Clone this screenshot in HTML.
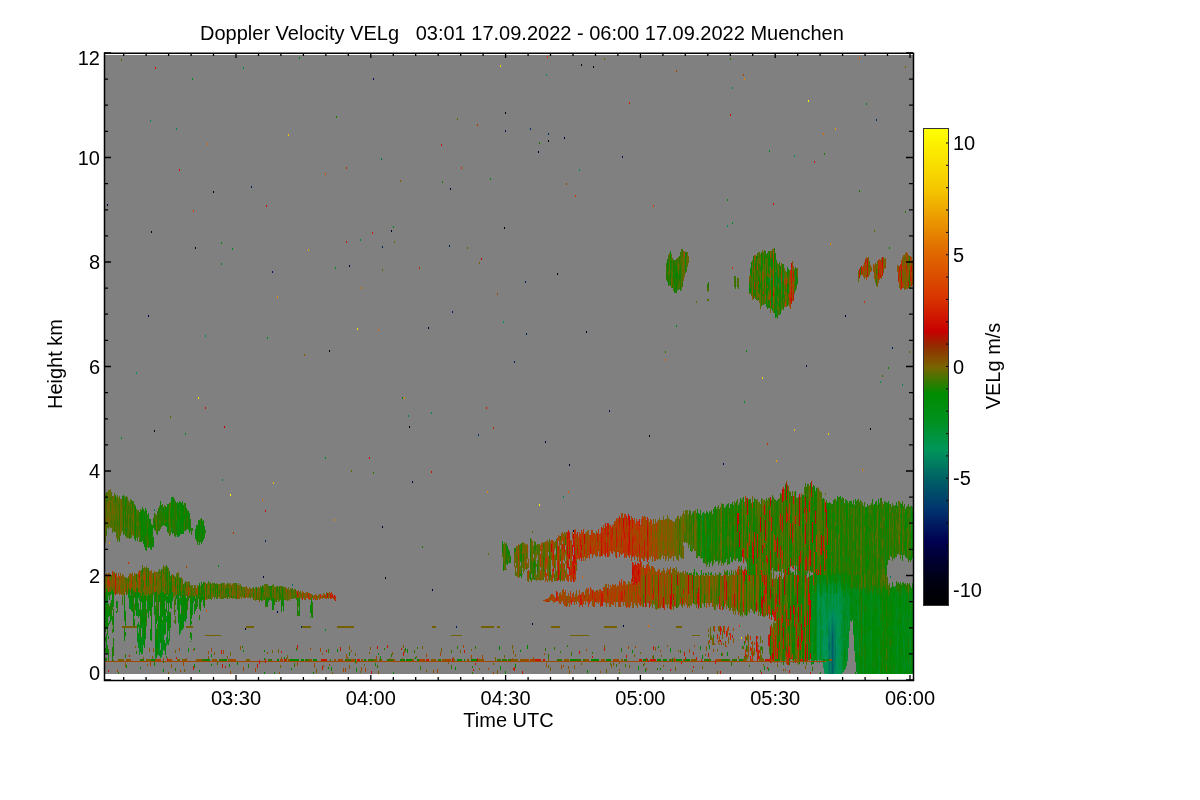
<!DOCTYPE html><html><head><meta charset="utf-8"><style>html,body{margin:0;padding:0;background:#fff;width:1200px;height:800px;overflow:hidden}svg{display:block;will-change:transform}text{font-family:"Liberation Sans",sans-serif;font-size:20px;fill:#000}</style></head><body><svg width="1200" height="800" viewBox="0 0 1200 800"><rect x="105" y="55" width="808" height="619" fill="#808080"/><defs><filter id="bl" x="0" y="0" width="1" height="1"><feGaussianBlur stdDeviation="0.5"/></filter></defs><g filter="url(#bl)"><rect x="105" y="55" width="808" height="619" fill="#808080"/><g fill="none" stroke-width="1" shape-rendering="crispEdges"><path stroke="#000004" d="M409.5 426v2"/><path stroke="#00000c" d="M154.5 430v2M329.5 350v2M504.5 227v2"/><path stroke="#000014" d="M195.5 247v2M505.5 112v2M557.5 273v2M581.5 64v2M593.5 66v2M649.5 435v2M870.5 428v2"/><path stroke="#00001b" d="M151.5 231v2M245.5 628v2M385.5 577v2M391.5 230v2M548.5 140v2"/><path stroke="#000023" d="M213.5 191v2M569.5 464v2M586.5 331v2"/><path stroke="#00002b" d="M382.5 526v2M432.5 589v2M564.5 137v2"/><path stroke="#000034" d="M107.5 204v2M349.5 265v2M428.5 327v2M573.5 530v2"/><path stroke="#00003e" d="M263.5 576v2M450.5 188v2M532.5 623v2M545.5 441v2M623.5 625v2M845.5 315v2"/><path stroke="#000047" d="M148.5 315v2M538.5 151v2"/><path stroke="#000050" d="M277.5 611v2M412.5 481v2"/><path stroke="#000d59" d="M373.5 78v2M505.5 130v2M609.5 410v2M622.5 156v2M723.5 463v2M806.5 365v2"/><path stroke="#001a61" d="M251.5 186v2M272.5 271v2M452.5 311v2M456.5 626v2M514.5 361v2M525.5 281v2M526.5 333v2M892.5 347v2"/><path stroke="#002566" d="M265.5 540v2M382.5 246v2M449.5 245v2"/><path stroke="#003069" d="M301.5 626v2M478.5 434v2M530.5 128v2M548.5 133v2M876.5 119v2"/><path stroke="#005c69" d="M832.5 633v27M832.5 663v11"/><path stroke="#006766" d="M829.5 642v8M832.5 660v3"/><path stroke="#007163" d="M292.5 584v2M381.5 158v2M829.5 656v3M829.5 661v13M831.5 641v18M831.5 661v13M832.5 623v10M833.5 629v43M835.5 647v10M890.5 576v2"/><path stroke="#007b61" d="M154.5 509v2M828.5 629v22M828.5 658v1M828.5 661v13M829.5 629v8M829.5 650v6M830.5 636v7M830.5 655v4M830.5 661v4M831.5 624v17M832.5 617v6M833.5 625v4M833.5 672v2M834.5 631v10M834.5 651v16M835.5 628v19M835.5 657v10"/><path stroke="#00855e" d="M176.5 128v2M222.5 479v2M408.5 415v2M431.5 412v2M563.5 496v2M828.5 621v8M828.5 651v7M829.5 625v4M829.5 637v5M830.5 631v5M830.5 643v12M830.5 665v9M831.5 617v7M832.5 609v8M833.5 618v7M834.5 623v8M834.5 641v10M834.5 667v7M835.5 619v9M835.5 667v7M902.5 384v2"/><path stroke="#008f5c" d="M150.5 120v2M205.5 335v2M546.5 74v2M727.5 225v2M794.5 155v2M823.5 636v8M824.5 662v11M825.5 642v3M829.5 616v9M831.5 610v7M834.5 614v9M835.5 611v8M836.5 646v8M837.5 618v9M837.5 631v14M837.5 648v11M837.5 662v12M838.5 650v7"/><path stroke="#009556" d="M136.5 372v2M503.5 321v2M818.5 595v10M823.5 599v10M823.5 613v8M823.5 626v3M823.5 644v8M824.5 609v9M824.5 622v37M825.5 624v8M825.5 639v3M825.5 645v16M825.5 662v1M825.5 671v3M826.5 622v3M826.5 635v15M826.5 655v4M826.5 661v4M826.5 673v1M827.5 635v9M827.5 648v8M827.5 661v6M828.5 612v9M830.5 614v17M833.5 608v10M835.5 599v12M836.5 615v10M836.5 637v9M836.5 654v20M837.5 627v4M837.5 645v3M837.5 659v3M838.5 614v12M838.5 632v6M838.5 647v3M838.5 657v17M839.5 630v7M839.5 645v4M839.5 654v4M840.5 614v7M840.5 647v6M880.5 381v2"/><path stroke="#00934b" d="M579.5 169v2M817.5 591v4M817.5 608v3M817.5 636v25M817.5 662v1M818.5 591v4M818.5 605v6M818.5 626v16M818.5 649v11M819.5 595v9M819.5 617v18M819.5 645v10M819.5 660v1M819.5 662v1M821.5 605v14M822.5 622v9M822.5 641v13M823.5 609v4M823.5 621v5M823.5 633v3M823.5 652v7M823.5 662v6M824.5 600v9M824.5 618v4M825.5 614v10M825.5 632v7M825.5 663v8M826.5 618v4M826.5 665v8M827.5 644v4M827.5 656v3M827.5 667v7M828.5 607v5M829.5 608v8M831.5 602v8M832.5 588v21M835.5 593v6M836.5 609v6M836.5 625v12M837.5 595v23M838.5 592v22M838.5 626v6M838.5 638v9M839.5 603v27M839.5 649v5M839.5 668v6M840.5 604v3M840.5 625v10M840.5 639v8M840.5 653v21"/><path stroke="#00913f" d="M243.5 67v2M817.5 595v13M817.5 611v25M818.5 611v15M818.5 642v7M819.5 591v4M819.5 604v4M819.5 635v10M821.5 596v9M821.5 627v25M822.5 595v27M822.5 654v7M822.5 662v1M823.5 592v7M823.5 629v4M824.5 592v8M825.5 591v7M825.5 606v8M826.5 611v7M826.5 625v10M826.5 650v5M827.5 620v7M828.5 585v22M829.5 594v14M830.5 610v4M831.5 594v8M833.5 598v10M834.5 594v20M839.5 590v6M839.5 637v8M839.5 658v10M840.5 587v17M840.5 607v7M840.5 621v4M841.5 603v8M841.5 614v10M841.5 643v6M841.5 656v18M842.5 590v7M842.5 623v4M842.5 668v5M846.5 628v6M848.5 620v7"/><path stroke="#008e34" d="M155.5 657v2M360.5 239v2M732.5 87v2M771.5 276v4M776.5 277v9M783.5 273v8M817.5 584v7M818.5 584v7M819.5 608v9M819.5 655v5M820.5 596v10M820.5 622v7M821.5 619v8M821.5 652v9M822.5 631v10M823.5 583v9M824.5 588v4M825.5 598v8M826.5 593v18M827.5 593v4M827.5 605v15M827.5 627v8M829.5 583v11M830.5 604v6M835.5 584v9M836.5 593v16M838.5 585v7M839.5 596v7M840.5 635v4M841.5 593v10M841.5 611v3M841.5 629v14M841.5 649v7M842.5 597v26M842.5 627v41M843.5 602v9M843.5 643v8M844.5 597v8M845.5 621v4M845.5 644v3M845.5 667v2M846.5 593v35M846.5 651v8M846.5 665v1M847.5 658v3M848.5 596v17M848.5 616v4M848.5 644v4M849.5 612v7M858.5 613v9M858.5 643v9"/><path stroke="#008c28" d="M139.5 643v12M141.5 645v6M159.5 637v5M159.5 646v7M162.5 651v4M166.5 641v5M179.5 618v7M192.5 78v2M221.5 263v2M325.5 629v2M335.5 267v2M702.5 513v9M727.5 199v2M732.5 222v2M744.5 401v2M769.5 150v2M769.5 278v5M772.5 297v8M776.5 269v5M779.5 277v4M780.5 279v8M812.5 591v19M812.5 631v30M812.5 662v2M817.5 575v9M818.5 575v9M819.5 583v8M820.5 606v6M820.5 633v13M820.5 655v3M821.5 592v4M822.5 589v6M824.5 581v7M825.5 587v4M827.5 597v8M828.5 580v5M830.5 594v10M831.5 584v10M832.5 582v6M833.5 581v17M837.5 582v13M838.5 582v3M839.5 581v9M841.5 624v5M843.5 597v5M843.5 619v4M843.5 626v17M843.5 665v6M844.5 638v4M845.5 603v13M845.5 625v19M846.5 589v4M846.5 634v17M846.5 659v6M847.5 594v3M847.5 606v10M847.5 625v5M847.5 640v11M848.5 613v3M848.5 627v17M849.5 594v8M855.5 638v9M858.5 589v7M858.5 605v8M858.5 626v4M858.5 636v7M858.5 659v8M863.5 589v5M863.5 613v11M863.5 637v5M863.5 657v4M863.5 665v5M871.5 593v5M871.5 629v11M871.5 650v3M871.5 658v5M878.5 602v4M897.5 637v20M902.5 596v6M902.5 616v6M904.5 648v8M909.5 598v8M909.5 621v7M909.5 661v10M910.5 639v8M911.5 506v7M911.5 523v9"/><path stroke="#008a1b" d="M121.5 437v2M129.5 601v8M131.5 603v3M137.5 607v9M137.5 624v14M138.5 637v11M139.5 593v8M139.5 625v7M139.5 635v5M142.5 635v10M145.5 622v4M147.5 603v10M155.5 606v9M155.5 627v9M155.5 641v16M158.5 625v5M158.5 643v12M159.5 642v4M159.5 653v3M160.5 654v4M161.5 623v14M161.5 647v10M162.5 642v9M163.5 634v13M164.5 625v3M165.5 647v4M166.5 616v6M166.5 637v4M177.5 595v15M178.5 532v5M180.5 596v9M185.5 433v2M191.5 603v5M192.5 597v3M192.5 610v5M232.5 248v2M299.5 57v2M325.5 457v2M393.5 226v2M685.5 252v9M702.5 522v36M708.5 538v9M743.5 497v11M753.5 265v4M753.5 282v4M766.5 305v2M771.5 266v3M776.5 274v3M776.5 296v19M787.5 274v3M795.5 271v9M795.5 288v3M803.5 659v2M803.5 662v2M808.5 639v21M811.5 603v16M811.5 636v25M811.5 662v1M812.5 575v16M812.5 610v21M813.5 612v12M814.5 593v38M816.5 599v55M820.5 612v10M820.5 629v4M820.5 646v9M820.5 658v2M821.5 580v12M825.5 580v7M828.5 575v5M830.5 586v8M837.5 572v3M839.5 575v6M840.5 579v8M843.5 611v8M843.5 623v3M843.5 651v14M843.5 671v1M844.5 591v6M844.5 605v11M844.5 620v18M844.5 642v4M844.5 661v5M845.5 592v11M845.5 616v5M845.5 647v20M846.5 582v7M847.5 597v9M847.5 616v9M847.5 630v10M847.5 651v7M848.5 589v7M849.5 602v10M849.5 619v12M850.5 588v6M850.5 599v6M850.5 614v7M852.5 619v1M853.5 587v19M853.5 613v7M853.5 628v7M854.5 588v6M854.5 621v8M854.5 646v5M855.5 589v10M855.5 605v13M855.5 629v9M855.5 647v7M856.5 591v9M856.5 604v7M856.5 616v5M856.5 634v11M856.5 661v6M857.5 586v3M857.5 595v25M857.5 630v23M857.5 666v8M858.5 622v4M858.5 630v6M858.5 667v7M860.5 589v4M860.5 603v9M860.5 634v5M860.5 649v6M863.5 594v19M863.5 624v13M863.5 642v15M863.5 661v4M863.5 670v4M866.5 103v2M866.5 591v5M866.5 624v5M866.5 632v14M866.5 671v3M867.5 661v13M868.5 598v10M868.5 617v9M868.5 633v13M869.5 655v8M870.5 630v7M871.5 586v7M871.5 598v31M871.5 640v10M871.5 653v5M871.5 663v11M876.5 588v20M876.5 617v3M876.5 638v4M876.5 672v2M878.5 595v7M878.5 619v7M878.5 649v13M878.5 669v5M879.5 588v4M879.5 597v29M879.5 642v7M879.5 656v18M881.5 629v6M881.5 657v8M885.5 558v3M888.5 652v7M892.5 644v6M894.5 598v5M895.5 594v5M895.5 619v17M896.5 606v12M896.5 646v9M896.5 672v2M897.5 590v4M897.5 604v17M897.5 630v7M897.5 657v17M898.5 592v6M898.5 608v10M898.5 626v5M898.5 634v8M900.5 625v10M901.5 551v4M902.5 586v10M902.5 602v11M902.5 622v20M902.5 658v9M902.5 673v1M903.5 615v14M903.5 638v14M903.5 662v5M903.5 673v1M904.5 597v10M904.5 625v6M904.5 641v7M904.5 656v17M905.5 594v9M905.5 614v5M905.5 628v4M905.5 638v5M905.5 664v5M907.5 608v13M907.5 631v7M907.5 648v24M909.5 617v4M909.5 628v33M910.5 602v17M910.5 626v13M910.5 647v20M911.5 513v10M911.5 539v14M912.5 595v8M912.5 611v9M912.5 637v3M912.5 661v8"/><path stroke="#00890f" d="M106.5 589v6M106.5 607v16M106.5 634v2M106.5 641v6M106.5 658v3M107.5 596v8M108.5 592v4M109.5 621v3M111.5 591v3M112.5 609v1M116.5 603v5M125.5 497v5M125.5 623v3M128.5 591v7M129.5 589v9M130.5 595v14M133.5 618v3M135.5 532v4M135.5 597v5M136.5 594v7M136.5 604v4M137.5 600v3M137.5 638v4M138.5 592v3M138.5 612v6M138.5 622v5M138.5 633v4M139.5 632v3M139.5 640v3M140.5 637v13M141.5 610v4M141.5 622v6M141.5 637v8M141.5 651v3M142.5 602v6M142.5 624v11M142.5 645v9M143.5 636v9M145.5 530v5M145.5 613v4M145.5 631v8M147.5 596v7M149.5 602v9M150.5 634v4M151.5 630v6M155.5 598v4M155.5 615v12M158.5 594v8M158.5 617v8M158.5 630v13M159.5 616v21M160.5 630v5M160.5 650v4M161.5 605v9M161.5 637v10M162.5 592v8M162.5 607v10M162.5 620v22M163.5 614v20M163.5 647v3M164.5 620v5M164.5 648v3M165.5 615v3M165.5 625v9M165.5 643v4M166.5 599v13M167.5 504v5M167.5 525v7M167.5 574v3M167.5 611v33M168.5 639v6M169.5 579v3M169.5 594v9M169.5 625v16M170.5 595v5M170.5 623v3M171.5 497v21M171.5 525v7M171.5 593v16M172.5 592v5M177.5 502v8M177.5 517v9M178.5 503v9M178.5 519v13M179.5 603v15M179.5 625v10M180.5 521v7M180.5 614v19M181.5 510v8M181.5 530v4M182.5 501v4M182.5 520v12M182.5 603v7M182.5 615v15M183.5 620v8M184.5 605v16M185.5 614v8M186.5 617v2M189.5 513v3M190.5 620v3M191.5 633v6M192.5 605v5M193.5 599v4M194.5 604v5M196.5 594v12M218.5 565v2M221.5 242v2M267.5 337v2M269.5 599v1M272.5 598v8M273.5 602v2M283.5 598v8M299.5 598v17M311.5 598v3M311.5 607v4M490.5 178v2M515.5 548v4M521.5 543v8M667.5 267v5M670.5 251v4M670.5 260v7M676.5 325v2M685.5 265v4M703.5 512v7M707.5 519v7M707.5 536v18M707.5 564v1M708.5 520v9M711.5 572v3M715.5 509v9M715.5 535v7M722.5 504v10M722.5 524v6M722.5 535v7M722.5 545v9M725.5 516v6M725.5 528v10M725.5 548v3M746.5 350v2M747.5 558v15M749.5 508v18M749.5 546v9M751.5 564v11M753.5 279v3M753.5 286v7M754.5 498v6M761.5 260v14M766.5 296v9M768.5 266v7M768.5 278v9M769.5 260v5M772.5 261v8M774.5 266v11M774.5 281v6M775.5 291v4M775.5 517v13M776.5 260v9M776.5 286v3M776.5 315v2M779.5 281v6M780.5 287v5M783.5 289v9M783.5 516v8M787.5 267v4M787.5 571v4M788.5 288v6M791.5 510v12M793.5 614v19M796.5 278v8M803.5 566v61M808.5 605v14M811.5 595v8M811.5 619v17M813.5 585v27M813.5 624v14M813.5 656v5M813.5 662v2M814.5 541v11M814.5 573v2M814.5 631v30M815.5 592v15M815.5 614v14M815.5 642v4M815.5 655v5M816.5 574v1M816.5 586v13M816.5 654v7M819.5 575v8M821.5 575v5M822.5 580v9M823.5 575v8M824.5 575v6M825.5 575v5M826.5 585v8M827.5 572v3M830.5 562v3M830.5 578v8M831.5 575v9M832.5 575v7M833.5 575v6M834.5 584v10M835.5 575v9M836.5 583v10M837.5 517v23M837.5 544v18M837.5 575v7M838.5 575v7M840.5 575v4M841.5 584v9M842.5 584v6M843.5 590v7M844.5 616v4M844.5 646v15M844.5 666v4M845.5 584v8M846.5 500v13M846.5 555v8M846.5 570v3M846.5 575v7M847.5 584v10M848.5 575v3M848.5 583v6M849.5 588v6M850.5 594v5M850.5 605v9M851.5 597v10M851.5 616v6M852.5 588v31M853.5 606v7M853.5 620v8M854.5 594v27M854.5 629v7M855.5 599v6M855.5 618v11M855.5 654v8M856.5 588v3M856.5 627v7M856.5 645v16M856.5 667v5M857.5 589v6M857.5 620v10M857.5 653v13M858.5 596v9M858.5 652v7M860.5 598v5M860.5 612v22M860.5 639v10M860.5 655v19M862.5 594v9M862.5 612v12M862.5 644v3M862.5 665v9M863.5 583v6M864.5 588v21M865.5 595v10M866.5 596v28M866.5 629v3M866.5 651v20M867.5 602v16M867.5 628v33M868.5 595v3M868.5 608v9M868.5 646v19M869.5 592v22M869.5 622v33M869.5 663v8M870.5 590v35M870.5 637v23M872.5 594v22M873.5 591v28M873.5 624v15M873.5 642v12M873.5 660v14M874.5 587v23M874.5 618v11M874.5 656v13M876.5 612v5M876.5 620v18M876.5 645v9M876.5 662v10M877.5 600v27M877.5 635v10M877.5 672v2M878.5 606v13M878.5 633v16M878.5 662v7M879.5 513v3M879.5 592v5M879.5 626v16M879.5 649v7M880.5 607v7M880.5 621v10M881.5 599v12M881.5 614v15M881.5 635v6M883.5 592v5M883.5 610v4M883.5 620v9M883.5 666v8M885.5 502v5M885.5 517v10M885.5 535v23M885.5 561v8M885.5 590v8M885.5 625v3M885.5 634v6M885.5 651v4M885.5 661v4M885.5 671v3M887.5 661v6M888.5 367v2M888.5 595v22M888.5 624v28M888.5 659v9M890.5 593v8M890.5 618v11M890.5 673v1M891.5 592v10M891.5 626v4M891.5 634v6M891.5 662v7M892.5 589v45M892.5 650v22M893.5 625v5M893.5 670v4M894.5 556v3M894.5 587v7M894.5 603v58M894.5 665v9M895.5 586v8M895.5 599v20M895.5 636v38M896.5 591v15M896.5 618v19M896.5 655v17M897.5 594v10M897.5 621v9M898.5 598v10M898.5 618v8M898.5 631v3M898.5 642v32M900.5 606v10M900.5 622v3M900.5 638v36M901.5 508v33M901.5 609v10M901.5 655v8M902.5 613v3M902.5 642v16M902.5 667v6M903.5 588v8M903.5 603v12M903.5 634v4M903.5 652v10M903.5 667v6M904.5 588v9M904.5 607v18M904.5 631v10M904.5 673v1M905.5 512v9M905.5 589v5M905.5 611v3M905.5 619v9M905.5 632v6M905.5 643v6M905.5 658v6M905.5 669v5M906.5 602v42M906.5 658v10M906.5 673v1M907.5 592v16M907.5 621v10M907.5 638v10M907.5 672v2M908.5 626v8M909.5 589v9M909.5 606v11M909.5 671v3M910.5 586v16M910.5 619v7M910.5 667v7M911.5 532v7M911.5 553v7M912.5 588v7M912.5 603v4M912.5 620v8M912.5 640v21M912.5 672v2"/><path stroke="#008702" d="M105.5 599v7M105.5 612v11M105.5 637v4M106.5 595v12M106.5 623v6M106.5 651v3M107.5 611v19M107.5 650v3M108.5 609v8M108.5 636v3M109.5 609v3M110.5 614v8M111.5 600v7M111.5 616v4M112.5 589v17M113.5 592v9M113.5 618v5M116.5 611v2M123.5 495v4M124.5 605v11M124.5 637v3M125.5 502v4M125.5 513v3M125.5 611v12M125.5 632v4M126.5 665v3M129.5 598v3M131.5 588v15M131.5 606v5M133.5 597v3M133.5 605v2M133.5 610v8M133.5 624v2M135.5 506v9M135.5 524v8M135.5 536v5M135.5 592v5M135.5 602v8M136.5 608v8M137.5 588v12M137.5 603v4M138.5 595v3M138.5 603v9M139.5 609v7M140.5 623v6M140.5 650v2M140.5 667v2M141.5 510v32M141.5 596v6M141.5 614v8M142.5 511v6M142.5 521v9M142.5 594v8M142.5 608v16M143.5 530v8M143.5 617v6M144.5 516v8M144.5 539v8M144.5 595v9M144.5 618v30M145.5 508v5M145.5 525v5M145.5 541v9M145.5 596v17M145.5 617v5M145.5 626v5M146.5 515v6M148.5 513v7M148.5 528v7M148.5 594v13M148.5 610v8M149.5 519v28M150.5 527v9M150.5 544v5M150.5 604v7M150.5 632v2M150.5 638v2M151.5 527v6M151.5 549v1M151.5 602v6M151.5 611v2M151.5 619v11M151.5 636v5M151.5 659v2M152.5 525v5M152.5 595v10M152.5 659v2M153.5 537v10M153.5 659v2M154.5 524v6M154.5 659v2M154.5 662v4M155.5 592v6M155.5 636v5M156.5 620v4M156.5 629v29M157.5 640v7M158.5 611v6M160.5 501v8M160.5 593v3M160.5 608v22M160.5 635v8M161.5 593v9M161.5 614v9M162.5 600v7M163.5 507v4M163.5 523v2M163.5 592v14M163.5 611v3M163.5 669v3M164.5 603v17M164.5 628v7M164.5 640v8M165.5 512v3M165.5 523v3M165.5 594v7M165.5 618v7M165.5 651v4M166.5 523v4M167.5 509v16M167.5 594v1M167.5 596v7M168.5 594v15M168.5 615v8M169.5 582v2M169.5 590v4M169.5 612v13M170.5 600v8M170.5 617v6M170.5 626v2M171.5 518v7M171.5 575v4M172.5 497v8M172.5 597v4M173.5 507v9M173.5 532v1M175.5 580v7M176.5 595v3M177.5 510v7M177.5 526v11M177.5 584v5M178.5 512v7M178.5 616v7M179.5 531v5M179.5 586v10M179.5 598v5M180.5 502v6M180.5 516v5M180.5 528v6M180.5 578v5M181.5 503v7M181.5 518v5M181.5 598v8M181.5 615v15M182.5 505v15M182.5 532v2M182.5 594v9M182.5 610v5M183.5 505v7M183.5 517v5M183.5 527v7M183.5 604v5M183.5 615v5M184.5 596v9M185.5 512v15M185.5 597v9M186.5 508v9M186.5 598v19M188.5 511v9M188.5 523v3M188.5 648v4M189.5 530v3M190.5 530v1M190.5 599v21M190.5 623v3M191.5 608v5M191.5 639v1M192.5 600v5M193.5 596v3M194.5 596v5M194.5 609v5M194.5 648v2M194.5 664v4M195.5 529v10M195.5 608v3M196.5 525v16M196.5 606v3M198.5 593v6M199.5 520v17M199.5 543v2M199.5 583v4M199.5 599v6M199.5 618v2M199.5 670v2M200.5 525v6M200.5 598v7M201.5 520v4M201.5 543v1M201.5 595v4M201.5 601v1M202.5 521v21M202.5 584v5M202.5 593v6M203.5 597v9M204.5 526v4M204.5 533v5M204.5 591v6M206.5 584v3M206.5 659v2M207.5 659v2M208.5 659v2M209.5 659v2M210.5 584v11M211.5 654v3M211.5 664v2M215.5 590v5M217.5 588v6M223.5 659v2M224.5 659v2M225.5 659v2M226.5 659v2M229.5 664v3M237.5 662v3M243.5 650v2M260.5 598v2M262.5 587v6M264.5 650v2M264.5 658v2M264.5 672v2M266.5 598v9M267.5 598v2M270.5 586v2M270.5 592v4M271.5 586v3M272.5 606v4M273.5 598v4M274.5 672v2M277.5 659v2M278.5 659v2M281.5 602v4M282.5 589v4M282.5 595v3M283.5 606v5M284.5 657v2M290.5 659v2M291.5 659v2M291.5 668v2M292.5 659v2M293.5 659v2M294.5 659v2M295.5 659v2M296.5 659v2M297.5 598v6M297.5 659v2M298.5 659v2M299.5 615v1M301.5 659v2M302.5 659v2M303.5 659v2M310.5 605v8M310.5 617v1M311.5 601v6M313.5 659v2M313.5 672v2M314.5 659v2M315.5 659v2M316.5 659v2M328.5 667v2M331.5 667v4M337.5 649v3M355.5 659v4M356.5 668v4M364.5 659v2M365.5 659v2M375.5 663v3M378.5 653v2M380.5 656v4M393.5 672v2M400.5 659v2M401.5 659v2M402.5 660v1M403.5 659v2M404.5 659v2M405.5 648v3M406.5 659v2M407.5 649v4M407.5 659v2M408.5 659v2M409.5 659v2M410.5 659v2M411.5 659v2M415.5 657v2M417.5 659v2M418.5 659v2M455.5 667v3M457.5 659v2M458.5 659v2M459.5 659v2M460.5 659v2M461.5 659v2M464.5 659v2M471.5 659v2M472.5 659v2M473.5 659v2M474.5 659v2M475.5 659v2M476.5 659v2M499.5 646v4M500.5 666v4M502.5 541v7M503.5 564v6M505.5 671v3M507.5 546v8M507.5 561v3M510.5 556v3M515.5 664v4M520.5 574v2M520.5 650v2M521.5 554v6M527.5 645v4M530.5 573v7M534.5 560v7M570.5 659v2M571.5 659v2M572.5 659v2M573.5 659v2M574.5 659v2M575.5 659v2M587.5 670v3M591.5 659v2M592.5 659v2M593.5 659v2M594.5 659v2M595.5 659v2M596.5 659v2M597.5 659v2M598.5 659v2M606.5 659v2M607.5 659v2M608.5 659v2M609.5 659v2M610.5 659v2M632.5 650v3M638.5 666v4M643.5 659v2M644.5 659v2M645.5 659v2M645.5 669v3M647.5 659v2M657.5 659v2M658.5 646v2M658.5 659v2M659.5 659v2M660.5 659v2M660.5 668v2M663.5 659v2M664.5 659v2M665.5 659v2M666.5 659v2M670.5 255v5M670.5 648v4M672.5 658v4M673.5 270v8M674.5 287v4M676.5 271v8M676.5 283v8M676.5 659v2M677.5 659v2M678.5 659v2M679.5 659v2M680.5 289v2M680.5 659v2M681.5 659v2M685.5 261v4M685.5 660v1M686.5 659v2M687.5 659v2M688.5 659v2M689.5 659v2M693.5 575v15M694.5 569v6M697.5 509v3M697.5 542v3M698.5 513v14M698.5 533v6M699.5 514v25M699.5 553v3M700.5 646v4M701.5 570v5M702.5 655v4M703.5 519v25M703.5 554v9M704.5 531v6M704.5 547v10M707.5 512v7M707.5 526v10M707.5 554v10M708.5 514v6M708.5 547v15M708.5 659v2M709.5 521v9M709.5 556v3M709.5 645v4M710.5 531v13M710.5 552v7M710.5 659v2M712.5 539v4M712.5 565v1M715.5 518v17M715.5 542v12M715.5 559v3M716.5 523v18M719.5 535v8M721.5 653v3M722.5 514v10M722.5 530v5M722.5 554v9M723.5 601v8M725.5 522v6M725.5 554v8M726.5 505v30M726.5 544v15M727.5 652v4M729.5 508v5M729.5 518v3M729.5 545v19M732.5 531v9M732.5 559v3M733.5 505v4M733.5 526v17M733.5 553v4M736.5 547v10M737.5 601v10M738.5 505v8M739.5 547v14M739.5 659v2M740.5 498v42M740.5 659v2M741.5 659v2M742.5 646v3M742.5 659v2M743.5 515v33M746.5 575v18M746.5 602v14M747.5 515v28M747.5 573v2M749.5 283v9M749.5 499v9M749.5 526v7M749.5 555v20M750.5 288v5M751.5 262v15M753.5 256v9M753.5 273v6M753.5 521v15M753.5 572v3M754.5 555v20M754.5 600v7M754.5 612v2M758.5 276v5M759.5 280v6M759.5 591v20M760.5 575v24M761.5 252v8M761.5 274v11M761.5 563v7M761.5 646v4M762.5 582v18M764.5 256v9M764.5 286v3M764.5 531v12M764.5 666v4M766.5 270v4M766.5 278v18M766.5 544v11M767.5 253v4M768.5 257v9M768.5 668v3M769.5 251v9M769.5 567v6M770.5 636v20M771.5 259v7M771.5 280v7M771.5 291v17M771.5 540v15M771.5 603v14M774.5 261v5M774.5 309v4M775.5 311v7M775.5 530v10M775.5 659v2M776.5 659v2M777.5 289v7M777.5 659v2M778.5 659v2M779.5 299v9M779.5 659v2M780.5 266v8M780.5 309v5M783.5 541v18M787.5 271v3M787.5 283v9M787.5 300v5M787.5 490v11M787.5 566v5M788.5 603v16M789.5 582v26M789.5 627v19M791.5 522v30M791.5 559v6M792.5 592v6M792.5 642v12M793.5 575v22M793.5 643v5M795.5 491v14M795.5 551v18M800.5 650v9M802.5 495v12M802.5 522v12M802.5 590v13M803.5 512v18M803.5 639v20M807.5 501v11M808.5 619v20M809.5 574v1M810.5 584v16M810.5 620v21M811.5 575v20M811.5 663v2M813.5 638v18M814.5 486v20M814.5 520v21M815.5 553v29M815.5 607v7M815.5 634v8M815.5 646v9M816.5 488v8M816.5 552v17M816.5 582v4M820.5 586v10M820.5 672v2M822.5 575v5M823.5 498v17M823.5 551v16M823.5 659v2M824.5 659v2M826.5 659v2M827.5 503v10M827.5 585v8M827.5 659v2M828.5 503v20M828.5 538v37M828.5 659v2M829.5 564v19M830.5 509v9M830.5 526v24M830.5 556v6M830.5 565v10M832.5 537v3M832.5 555v8M832.5 568v7M834.5 513v8M834.5 573v2M836.5 573v2M837.5 496v21M837.5 540v4M837.5 562v10M838.5 526v8M840.5 496v3M840.5 550v6M841.5 520v3M841.5 533v14M841.5 557v3M841.5 563v6M842.5 572v12M843.5 583v7M845.5 575v9M846.5 513v15M846.5 531v6M846.5 540v15M846.5 573v2M847.5 511v9M847.5 574v1M848.5 578v5M849.5 557v7M849.5 575v13M850.5 575v9M851.5 589v8M851.5 607v9M852.5 566v8M854.5 584v4M854.5 636v10M855.5 499v6M855.5 543v15M855.5 672v2M856.5 600v4M856.5 611v5M856.5 621v6M857.5 575v4M858.5 575v14M859.5 508v8M859.5 534v10M859.5 558v5M859.5 621v16M859.5 656v18M860.5 593v5M862.5 518v8M862.5 531v4M862.5 566v9M862.5 589v5M862.5 603v9M862.5 624v5M862.5 634v10M862.5 655v10M863.5 575v8M864.5 609v35M864.5 666v8M865.5 507v19M865.5 532v10M865.5 612v13M865.5 634v15M865.5 658v6M866.5 507v9M866.5 526v9M866.5 545v9M866.5 559v21M866.5 586v5M866.5 646v5M867.5 514v4M867.5 526v5M867.5 555v15M867.5 594v8M867.5 618v10M868.5 543v8M868.5 560v4M868.5 626v7M868.5 665v9M869.5 614v8M869.5 671v3M870.5 625v5M870.5 660v14M871.5 575v11M872.5 616v46M872.5 668v6M873.5 619v5M873.5 639v3M873.5 654v6M874.5 504v19M874.5 526v7M874.5 537v14M874.5 557v13M874.5 610v8M874.5 629v27M874.5 669v5M875.5 586v16M875.5 612v44M875.5 669v5M876.5 608v4M876.5 642v3M876.5 654v8M877.5 593v7M877.5 627v8M877.5 645v4M877.5 656v16M878.5 499v4M878.5 580v5M878.5 626v7M879.5 516v9M879.5 540v9M880.5 596v11M880.5 631v7M880.5 646v3M880.5 655v11M881.5 593v6M881.5 611v3M881.5 641v16M881.5 665v9M882.5 628v4M882.5 668v6M883.5 586v6M883.5 597v13M883.5 650v16M884.5 601v23M884.5 628v20M884.5 651v6M884.5 671v3M885.5 507v10M885.5 569v6M885.5 598v27M885.5 640v11M885.5 665v6M886.5 521v10M886.5 560v4M887.5 590v22M887.5 615v6M887.5 628v9M887.5 640v9M887.5 667v7M888.5 501v27M888.5 532v23M888.5 617v7M888.5 668v6M889.5 247v2M889.5 597v12M889.5 627v8M889.5 669v5M890.5 609v4M890.5 629v10M890.5 646v20M891.5 587v5M891.5 602v24M891.5 630v4M891.5 647v15M891.5 669v5M892.5 634v10M892.5 672v2M893.5 586v39M893.5 635v29M894.5 524v7M894.5 538v8M894.5 594v4M894.5 661v4M896.5 502v6M896.5 637v9M899.5 598v16M899.5 624v9M899.5 637v37M900.5 598v8M900.5 616v6M900.5 635v3M901.5 504v4M901.5 541v10M901.5 595v14M901.5 619v30M901.5 663v10M903.5 596v7M903.5 629v5M905.5 509v3M905.5 521v8M905.5 541v16M905.5 603v8M905.5 649v9M906.5 511v8M906.5 523v3M906.5 535v10M906.5 556v2M906.5 593v9M906.5 644v14M906.5 668v5M908.5 602v16M908.5 622v4M908.5 634v4M908.5 648v6M908.5 664v6M911.5 588v9M911.5 613v28M911.5 650v8M911.5 667v7M912.5 513v9M912.5 583v5M912.5 607v4M912.5 628v9M912.5 669v3"/><path stroke="#167e00" d="M105.5 606v6M105.5 623v6M105.5 648v4M106.5 530v3M106.5 636v5M106.5 647v4M107.5 630v5M107.5 645v5M108.5 604v5M108.5 623v3M108.5 651v7M109.5 592v8M109.5 606v3M109.5 612v4M110.5 592v3M111.5 607v9M112.5 616v6M112.5 647v11M113.5 601v6M113.5 612v6M113.5 623v9M113.5 638v7M113.5 647v4M113.5 653v3M113.5 660v1M115.5 495v7M116.5 601v2M117.5 601v6M123.5 509v23M124.5 595v10M124.5 616v5M124.5 628v9M124.5 640v1M125.5 506v7M125.5 525v11M128.5 578v3M132.5 501v7M132.5 589v23M133.5 607v3M133.5 621v3M134.5 610v6M134.5 619v5M135.5 515v9M136.5 574v8M136.5 593v1M136.5 601v3M139.5 512v9M139.5 525v5M140.5 512v10M140.5 531v3M140.5 599v24M140.5 629v8M141.5 579v3M142.5 507v4M142.5 517v4M142.5 530v7M142.5 568v5M143.5 509v21M143.5 538v6M143.5 599v18M143.5 623v13M144.5 511v5M144.5 524v15M144.5 604v14M145.5 513v12M146.5 510v5M146.5 521v13M146.5 541v10M146.5 574v13M146.5 595v1M146.5 615v3M148.5 520v8M148.5 535v4M148.5 545v3M148.5 568v2M148.5 576v10M148.5 607v3M149.5 595v7M150.5 519v8M150.5 536v8M150.5 597v7M150.5 611v5M150.5 629v3M151.5 524v3M151.5 533v16M151.5 608v3M151.5 613v6M152.5 530v17M154.5 521v3M154.5 595v20M156.5 591v3M156.5 609v11M157.5 531v4M157.5 636v4M157.5 647v8M158.5 520v4M158.5 602v9M159.5 509v3M159.5 595v7M160.5 604v4M161.5 569v6M161.5 582v4M161.5 590v3M161.5 602v3M162.5 508v9M162.5 522v4M163.5 511v12M163.5 606v5M164.5 594v9M165.5 506v6M165.5 515v5M165.5 609v6M166.5 507v13M166.5 593v6M167.5 567v7M167.5 577v12M168.5 504v8M168.5 523v6M168.5 609v6M168.5 623v8M169.5 571v8M169.5 584v6M170.5 509v9M170.5 582v12M170.5 612v5M171.5 579v14M172.5 505v12M172.5 528v6M173.5 497v10M173.5 516v3M174.5 516v4M175.5 501v8M175.5 518v8M175.5 532v5M175.5 577v3M176.5 521v9M177.5 575v4M177.5 589v4M178.5 594v22M179.5 501v9M179.5 518v13M179.5 579v7M180.5 508v8M180.5 583v4M180.5 591v5M181.5 523v7M181.5 606v9M182.5 591v3M183.5 512v5M183.5 522v5M183.5 591v2M183.5 595v9M183.5 609v6M184.5 515v6M185.5 503v9M185.5 527v4M185.5 584v4M185.5 606v8M186.5 523v7M188.5 520v3M188.5 526v4M188.5 596v5M189.5 516v14M190.5 519v11M190.5 632v6M190.5 641v1M191.5 596v7M191.5 613v6M191.5 621v3M192.5 528v3M195.5 603v5M197.5 525v15M197.5 606v1M198.5 520v22M198.5 586v7M199.5 537v6M199.5 587v7M199.5 598v1M199.5 605v4M200.5 531v11M200.5 605v6M201.5 518v2M201.5 524v19M201.5 582v9M202.5 589v4M203.5 520v20M203.5 587v5M204.5 530v3M204.5 582v3M204.5 597v11M205.5 530v3M206.5 587v5M206.5 595v2M208.5 581v2M208.5 598v1M210.5 595v4M212.5 583v2M212.5 589v2M215.5 586v4M217.5 584v4M217.5 594v5M219.5 590v4M221.5 583v8M225.5 597v1M227.5 591v3M228.5 589v8M231.5 589v3M231.5 595v3M233.5 595v3M236.5 598v1M253.5 587v3M253.5 592v4M256.5 587v6M261.5 587v14M262.5 585v2M263.5 590v2M267.5 600v7M268.5 598v4M271.5 589v12M273.5 604v6M279.5 586v4M279.5 593v5M280.5 594v4M281.5 598v4M281.5 606v6M282.5 593v2M282.5 598v8M293.5 596v2M297.5 611v5M298.5 598v3M311.5 611v6M312.5 612v6M336.5 116v2M402.5 397v2M422.5 546v2M442.5 181v2M502.5 548v4M506.5 543v14M506.5 560v4M507.5 564v1M508.5 549v8M509.5 551v4M509.5 560v3M510.5 559v4M519.5 575v2M520.5 554v8M521.5 560v3M521.5 570v8M523.5 554v7M530.5 538v4M530.5 550v7M533.5 566v13M534.5 578v2M535.5 547v4M537.5 564v7M539.5 142v2M543.5 560v3M549.5 555v4M556.5 547v8M560.5 572v6M667.5 259v8M667.5 275v7M668.5 261v7M668.5 281v5M669.5 282v3M670.5 267v19M672.5 285v3M673.5 260v10M674.5 266v4M674.5 277v10M674.5 291v2M675.5 265v13M675.5 281v4M676.5 259v12M676.5 291v2M677.5 271v12M679.5 269v11M679.5 288v1M679.5 549v3M680.5 265v16M680.5 285v4M685.5 269v4M689.5 573v2M690.5 546v5M691.5 551v1M691.5 573v2M693.5 511v17M693.5 531v9M693.5 590v14M696.5 572v3M697.5 512v5M697.5 523v14M697.5 573v2M698.5 527v6M698.5 539v17M699.5 545v8M700.5 510v8M700.5 528v3M700.5 539v9M700.5 590v18M701.5 551v7M703.5 544v10M704.5 527v4M704.5 537v10M704.5 557v6M704.5 594v9M705.5 535v10M705.5 573v2M706.5 511v15M706.5 546v16M706.5 573v2M708.5 529v9M709.5 511v5M709.5 530v26M709.5 559v6M710.5 512v19M710.5 544v8M710.5 559v4M710.5 573v2M711.5 517v4M712.5 514v25M712.5 543v22M713.5 509v9M713.5 533v7M713.5 635v3M714.5 517v3M715.5 506v3M715.5 554v5M716.5 509v9M716.5 541v20M717.5 544v6M719.5 509v26M719.5 551v9M719.5 575v13M722.5 542v3M723.5 522v17M723.5 546v8M724.5 532v10M724.5 557v6M725.5 507v9M725.5 538v10M725.5 551v3M726.5 535v9M727.5 504v4M727.5 516v15M727.5 546v10M727.5 570v5M728.5 597v11M729.5 513v5M729.5 521v24M729.5 572v3M730.5 504v9M730.5 551v6M731.5 512v5M731.5 527v13M731.5 546v14M732.5 502v9M732.5 516v15M732.5 540v19M733.5 509v13M733.5 557v2M735.5 507v10M736.5 501v31M737.5 540v18M737.5 575v26M738.5 524v38M740.5 540v11M741.5 550v11M744.5 641v4M746.5 593v9M746.5 645v5M750.5 268v7M750.5 511v9M750.5 542v18M751.5 545v19M753.5 296v3M753.5 502v19M753.5 564v8M754.5 504v28M754.5 547v8M754.5 575v25M755.5 263v7M755.5 284v15M755.5 517v21M755.5 575v8M756.5 256v10M756.5 539v20M758.5 284v3M759.5 286v8M760.5 599v17M761.5 285v21M761.5 512v17M762.5 261v9M764.5 278v5M766.5 254v4M766.5 266v4M766.5 274v4M766.5 498v25M767.5 276v9M767.5 288v7M767.5 588v11M768.5 287v4M768.5 300v8M768.5 506v41M768.5 557v18M769.5 270v4M769.5 300v8M769.5 561v6M769.5 573v2M771.5 273v3M771.5 287v4M771.5 308v1M771.5 500v17M772.5 254v7M772.5 277v20M772.5 309v2M772.5 525v20M772.5 552v10M774.5 248v3M774.5 254v7M774.5 303v6M775.5 253v7M775.5 272v9M775.5 295v8M775.5 552v19M776.5 289v7M776.5 501v19M776.5 567v5M777.5 277v12M777.5 302v3M777.5 500v26M777.5 579v28M777.5 639v9M778.5 577v16M778.5 650v9M779.5 268v9M779.5 287v6M779.5 573v2M779.5 621v20M780.5 292v17M780.5 508v5M780.5 558v9M782.5 264v6M782.5 287v17M782.5 579v23M782.5 623v16M783.5 281v8M783.5 304v4M783.5 501v15M783.5 587v18M783.5 649v12M783.5 662v3M785.5 484v21M785.5 535v14M785.5 646v5M786.5 574v1M787.5 292v4M787.5 305v1M787.5 501v12M787.5 521v32M788.5 269v3M788.5 284v4M788.5 575v10M788.5 626v7M789.5 491v12M789.5 535v37M789.5 575v7M789.5 608v19M789.5 658v3M789.5 662v3M790.5 515v8M790.5 539v19M790.5 571v4M791.5 496v14M791.5 552v7M791.5 565v1M792.5 575v17M792.5 598v33M793.5 572v3M793.5 597v8M793.5 633v10M793.5 648v13M793.5 662v1M794.5 627v32M795.5 505v11M795.5 524v27M795.5 593v24M796.5 575v11M797.5 550v19M799.5 571v13M799.5 598v21M799.5 660v1M799.5 662v2M800.5 563v12M800.5 594v17M802.5 507v15M802.5 560v30M802.5 603v27M802.5 641v18M803.5 495v17M803.5 530v36M804.5 627v10M805.5 574v1M806.5 497v11M806.5 590v18M806.5 621v17M806.5 655v5M807.5 545v5M807.5 571v2M809.5 587v6M810.5 483v11M810.5 514v16M810.5 566v5M810.5 576v8M810.5 647v6M811.5 497v61M812.5 487v35M812.5 543v5M812.5 563v9M813.5 532v12M814.5 506v14M814.5 575v18M815.5 491v20M815.5 524v15M815.5 628v6M816.5 496v22M816.5 524v11M820.5 575v11M821.5 555v20M822.5 499v21M822.5 572v3M823.5 515v21M823.5 567v8M824.5 153v2M825.5 541v16M826.5 542v8M826.5 575v10M827.5 513v15M827.5 545v27M828.5 523v15M829.5 502v7M829.5 546v18M830.5 503v6M830.5 518v8M830.5 550v6M830.5 575v3M832.5 504v3M832.5 512v25M832.5 540v15M832.5 563v5M833.5 500v27M834.5 543v11M834.5 575v9M835.5 526v5M835.5 566v4M836.5 501v9M836.5 525v9M836.5 562v11M836.5 575v8M838.5 502v10M838.5 568v7M840.5 513v10M840.5 528v22M840.5 556v5M841.5 499v15M841.5 523v10M841.5 547v10M841.5 560v3M841.5 569v15M842.5 501v6M842.5 525v8M842.5 555v9M842.5 569v3M843.5 574v9M844.5 508v9M844.5 534v11M844.5 573v5M844.5 581v10M845.5 544v17M845.5 570v5M846.5 528v3M846.5 537v3M846.5 563v7M847.5 501v10M847.5 535v10M847.5 557v4M847.5 575v9M849.5 501v56M849.5 564v3M850.5 501v6M850.5 519v17M850.5 558v10M850.5 584v4M851.5 501v7M851.5 515v4M851.5 532v10M851.5 574v1M852.5 504v15M852.5 529v4M852.5 542v10M852.5 574v1M853.5 575v12M854.5 541v9M854.5 556v9M854.5 575v9M855.5 505v38M855.5 558v15M855.5 575v4M855.5 582v7M856.5 575v8M857.5 521v5M857.5 564v8M857.5 579v7M858.5 559v12M859.5 190v2M859.5 516v18M859.5 544v4M859.5 553v5M859.5 563v8M859.5 590v31M859.5 637v19M860.5 575v14M861.5 592v4M861.5 620v8M861.5 644v7M861.5 656v18M862.5 503v15M862.5 526v5M862.5 535v31M862.5 629v5M862.5 647v8M863.5 572v3M864.5 523v3M864.5 543v8M864.5 644v22M865.5 547v5M865.5 555v20M865.5 588v7M865.5 625v9M865.5 649v9M865.5 664v10M866.5 516v10M866.5 535v10M866.5 554v5M866.5 580v6M867.5 504v10M867.5 518v8M867.5 531v24M867.5 579v15M868.5 527v5M868.5 536v7M868.5 585v10M869.5 528v11M869.5 553v16M870.5 512v8M870.5 528v4M870.5 542v15M870.5 567v8M871.5 517v8M871.5 537v7M872.5 499v6M872.5 523v10M872.5 546v18M872.5 567v8M872.5 662v6M873.5 509v10M874.5 523v3M874.5 533v4M874.5 570v5M875.5 502v29M875.5 545v35M875.5 602v10M875.5 656v13M876.5 501v10M877.5 649v7M878.5 503v6M878.5 519v27M878.5 550v5M878.5 558v12M878.5 575v5M878.5 585v10M879.5 503v10M879.5 525v11M879.5 558v30M880.5 508v5M880.5 517v4M880.5 528v9M880.5 547v9M880.5 563v3M880.5 588v8M880.5 614v7M880.5 638v8M880.5 649v6M880.5 666v8M881.5 519v3M881.5 528v12M881.5 543v14M881.5 564v5M882.5 588v16M882.5 609v19M882.5 632v26M883.5 507v10M883.5 529v10M883.5 547v6M883.5 614v6M883.5 629v21M884.5 586v15M884.5 624v4M884.5 648v3M884.5 657v14M885.5 527v8M885.5 584v6M885.5 628v6M885.5 655v6M886.5 507v14M886.5 531v8M886.5 557v3M886.5 564v11M886.5 589v16M886.5 616v19M886.5 638v3M886.5 646v3M886.5 658v7M887.5 503v9M887.5 518v10M887.5 551v8M887.5 612v3M887.5 621v7M887.5 637v3M887.5 649v12M888.5 528v4M888.5 555v5M889.5 609v18M889.5 635v34M890.5 516v8M890.5 546v10M890.5 588v5M890.5 601v8M890.5 613v5M890.5 666v7M891.5 510v3M891.5 548v9M891.5 640v7M892.5 582v7M893.5 630v5M893.5 664v6M894.5 515v9M894.5 546v10M895.5 510v4M896.5 529v4M897.5 506v8M897.5 533v10M897.5 583v7M899.5 588v10M899.5 614v10M899.5 633v4M900.5 503v5M900.5 514v4M900.5 538v5M900.5 558v1M900.5 582v16M901.5 585v10M901.5 649v6M901.5 673v1M902.5 553v8M902.5 583v3M903.5 582v6M904.5 525v8M904.5 542v9M904.5 584v4M905.5 529v9M906.5 507v4M906.5 519v4M906.5 526v3M906.5 545v11M906.5 585v8M907.5 519v9M908.5 618v4M908.5 638v10M908.5 654v10M908.5 670v4M909.5 283v5M909.5 524v7M909.5 538v5M909.5 555v5M909.5 583v6M910.5 533v3M910.5 556v5M911.5 597v16M911.5 641v9M911.5 658v9M912.5 522v36"/><path stroke="#2f7400" d="M105.5 592v7M105.5 629v3M105.5 658v3M106.5 492v13M107.5 590v6M107.5 604v7M108.5 649v2M108.5 658v3M110.5 497v3M110.5 503v7M110.5 603v11M112.5 606v3M112.5 622v3M112.5 629v4M112.5 658v3M113.5 609v3M113.5 645v2M114.5 523v9M117.5 520v7M117.5 607v5M118.5 672v2M119.5 504v27M119.5 537v5M122.5 496v8M122.5 596v9M123.5 499v10M123.5 532v3M124.5 506v4M125.5 516v9M125.5 654v4M126.5 499v8M126.5 517v7M126.5 528v9M126.5 578v3M126.5 583v12M127.5 510v22M128.5 506v8M128.5 588v3M129.5 517v9M129.5 531v8M130.5 507v31M131.5 500v4M132.5 508v6M132.5 522v9M133.5 591v6M133.5 600v5M134.5 504v35M134.5 591v7M134.5 604v1M134.5 624v2M136.5 516v6M136.5 526v3M136.5 588v5M136.5 651v3M137.5 527v14M138.5 515v6M139.5 521v4M140.5 522v9M140.5 534v8M140.5 593v6M140.5 659v2M141.5 570v6M141.5 584v7M141.5 659v2M142.5 537v4M142.5 589v5M142.5 659v2M143.5 581v6M143.5 592v7M143.5 659v2M145.5 535v6M146.5 534v7M146.5 568v6M146.5 609v6M146.5 618v8M147.5 515v7M147.5 528v13M148.5 539v6M148.5 570v6M148.5 593v1M150.5 594v3M151.5 593v9M152.5 592v3M152.5 605v2M153.5 518v10M153.5 573v13M154.5 513v8M154.5 592v3M155.5 522v8M156.5 579v7M156.5 594v15M157.5 511v20M157.5 609v12M157.5 624v9M158.5 508v12M158.5 524v7M159.5 506v3M159.5 512v8M159.5 524v7M159.5 569v4M160.5 509v20M160.5 576v3M160.5 596v8M161.5 505v22M161.5 575v7M161.5 586v4M162.5 504v4M162.5 517v5M163.5 567v7M163.5 661v2M164.5 509v10M164.5 524v2M165.5 520v3M165.5 569v10M165.5 585v5M166.5 520v3M166.5 565v16M166.5 589v4M166.5 656v2M167.5 589v5M168.5 512v11M168.5 529v4M170.5 518v7M170.5 533v2M170.5 594v1M172.5 517v11M173.5 519v13M173.5 575v3M174.5 499v17M174.5 520v16M174.5 612v3M175.5 509v9M175.5 526v6M175.5 597v8M175.5 610v2M175.5 622v2M175.5 668v3M176.5 503v13M176.5 530v5M176.5 598v1M177.5 579v5M177.5 593v2M179.5 510v8M180.5 587v2M183.5 584v7M184.5 503v12M184.5 530v1M184.5 591v5M185.5 581v3M185.5 594v3M186.5 517v6M187.5 510v19M187.5 595v15M189.5 582v5M189.5 597v1M190.5 595v4M191.5 528v7M191.5 590v6M195.5 598v5M197.5 540v5M197.5 597v9M199.5 594v4M199.5 615v3M200.5 519v6M200.5 593v5M201.5 591v4M201.5 599v2M202.5 599v1M202.5 659v2M203.5 582v5M203.5 592v2M203.5 596v1M203.5 659v2M204.5 659v2M205.5 659v2M208.5 595v3M211.5 599v1M213.5 587v7M214.5 583v2M214.5 597v2M215.5 584v2M215.5 595v2M216.5 585v3M217.5 662v3M219.5 659v2M220.5 659v2M221.5 597v2M221.5 659v2M222.5 659v2M223.5 588v3M225.5 591v6M226.5 588v6M227.5 585v6M227.5 594v5M231.5 587v2M236.5 583v15M241.5 586v5M242.5 646v2M244.5 591v7M248.5 664v4M249.5 593v4M250.5 596v2M253.5 590v2M256.5 593v7M258.5 597v3M262.5 593v4M264.5 596v4M265.5 601v4M266.5 597v1M268.5 659v2M269.5 586v7M269.5 595v4M269.5 659v2M270.5 659v2M271.5 659v2M273.5 590v6M274.5 598v7M276.5 588v7M276.5 597v5M277.5 586v6M279.5 590v3M279.5 598v3M282.5 586v3M291.5 589v4M292.5 588v2M294.5 663v4M295.5 589v9M296.5 648v3M297.5 604v7M298.5 611v3M305.5 659v2M306.5 659v2M307.5 659v2M308.5 659v2M312.5 595v3M312.5 602v10M328.5 649v4M330.5 659v2M345.5 659v2M346.5 659v2M347.5 660v1M348.5 659v2M349.5 652v4M349.5 659v2M350.5 659v2M368.5 659v2M369.5 659v2M370.5 659v2M371.5 659v2M372.5 659v2M373.5 472v2M373.5 659v2M377.5 665v3M384.5 648v2M387.5 659v2M388.5 659v2M389.5 659v2M390.5 660v1M391.5 654v3M391.5 659v2M392.5 659v2M414.5 650v3M417.5 647v2M420.5 666v4M438.5 659v2M439.5 659v2M440.5 659v2M451.5 650v3M451.5 665v4M457.5 646v3M472.5 666v2M472.5 672v2M475.5 646v3M497.5 659v2M498.5 659v2M499.5 659v2M500.5 659v2M502.5 659v2M503.5 550v4M503.5 570v1M503.5 659v2M504.5 659v2M505.5 558v6M505.5 659v2M506.5 557v3M506.5 569v1M506.5 659v2M507.5 554v7M508.5 659v2M509.5 555v5M509.5 659v2M510.5 659v2M514.5 548v5M519.5 545v4M520.5 548v6M521.5 551v3M521.5 563v7M530.5 542v8M530.5 557v11M531.5 561v13M533.5 561v5M534.5 545v8M534.5 567v6M535.5 542v5M535.5 562v5M543.5 543v5M543.5 556v4M543.5 563v8M544.5 557v3M545.5 648v3M548.5 654v4M549.5 546v9M549.5 565v12M550.5 572v5M554.5 647v3M556.5 555v5M557.5 659v2M558.5 659v2M559.5 659v2M560.5 536v4M560.5 556v5M560.5 578v3M560.5 651v2M560.5 659v2M561.5 659v2M565.5 537v8M567.5 645v2M571.5 652v4M576.5 659v2M577.5 659v2M578.5 659v2M579.5 659v2M580.5 659v2M583.5 659v2M584.5 659v2M592.5 652v2M610.5 663v2M616.5 664v3M619.5 672v2M621.5 648v4M624.5 659v2M625.5 659v2M625.5 664v3M626.5 659v2M643.5 594v9M643.5 664v2M653.5 655v4M657.5 668v2M665.5 351v2M666.5 263v3M666.5 270v9M667.5 272v3M668.5 255v6M668.5 268v3M668.5 275v6M669.5 274v8M669.5 659v2M670.5 659v2M671.5 260v9M673.5 278v7M674.5 260v6M674.5 270v7M675.5 278v3M675.5 288v5M676.5 279v4M676.5 575v7M676.5 600v8M677.5 283v7M678.5 274v9M679.5 256v8M679.5 519v15M679.5 541v8M679.5 552v3M680.5 252v6M680.5 281v4M680.5 650v3M681.5 262v3M682.5 249v6M682.5 282v4M684.5 535v7M686.5 252v5M686.5 516v26M687.5 572v3M688.5 604v2M689.5 510v35M690.5 511v5M690.5 525v9M690.5 573v2M691.5 515v17M691.5 535v6M692.5 513v6M693.5 528v3M693.5 540v9M696.5 513v8M696.5 556v2M697.5 517v6M697.5 537v5M697.5 545v13M699.5 539v6M700.5 518v10M700.5 531v8M700.5 575v15M701.5 515v10M701.5 532v4M701.5 558v1M703.5 573v2M704.5 513v14M704.5 603v4M704.5 659v2M705.5 514v3M705.5 545v12M705.5 659v2M706.5 526v20M706.5 659v2M707.5 284v4M707.5 659v2M708.5 282v9M708.5 572v3M709.5 516v5M709.5 565v2M711.5 510v7M711.5 521v9M711.5 551v10M711.5 590v11M713.5 518v15M713.5 540v21M714.5 507v10M714.5 520v36M715.5 573v2M716.5 518v5M716.5 587v16M717.5 507v37M717.5 557v4M718.5 536v8M718.5 548v17M718.5 574v1M718.5 580v24M719.5 543v8M719.5 560v3M719.5 588v8M720.5 527v6M720.5 573v2M721.5 659v2M722.5 659v2M723.5 504v18M723.5 539v7M723.5 554v11M723.5 659v2M724.5 508v16M724.5 527v5M724.5 542v15M724.5 659v2M725.5 572v3M725.5 659v2M726.5 659v2M727.5 508v8M727.5 531v5M727.5 556v9M727.5 659v2M728.5 503v11M728.5 529v7M728.5 555v9M728.5 659v2M729.5 659v2M730.5 58v2M730.5 513v11M730.5 532v4M731.5 504v8M731.5 517v10M731.5 560v2M731.5 570v5M731.5 662v4M732.5 511v5M732.5 574v1M732.5 659v2M733.5 522v4M733.5 543v10M733.5 659v2M734.5 276v2M734.5 510v6M734.5 526v5M734.5 547v6M734.5 659v2M735.5 278v11M735.5 503v4M735.5 517v44M735.5 659v2M736.5 532v15M736.5 557v2M736.5 659v2M737.5 285v2M737.5 532v8M738.5 287v2M739.5 503v29M740.5 551v11M740.5 602v14M741.5 500v35M741.5 566v40M743.5 508v7M744.5 519v11M745.5 538v23M745.5 575v9M746.5 498v15M746.5 524v16M746.5 637v3M748.5 500v6M749.5 592v14M749.5 665v2M750.5 278v6M750.5 293v1M750.5 499v12M750.5 520v5M750.5 560v15M751.5 283v7M751.5 503v42M751.5 601v8M752.5 524v8M752.5 559v16M753.5 293v3M753.5 536v11M754.5 289v7M754.5 607v5M755.5 279v5M755.5 583v11M755.5 609v2M756.5 266v12M756.5 500v39M756.5 559v5M757.5 253v8M757.5 270v6M757.5 281v3M757.5 516v18M757.5 558v17M758.5 263v5M758.5 287v6M758.5 297v3M758.5 540v19M759.5 255v3M759.5 264v7M759.5 275v5M759.5 522v32M759.5 575v16M759.5 611v1M760.5 266v6M760.5 282v7M760.5 670v2M761.5 498v14M761.5 529v34M762.5 254v7M762.5 289v7M763.5 294v11M763.5 549v20M764.5 250v6M764.5 283v3M764.5 289v7M764.5 520v11M764.5 548v16M764.5 571v4M765.5 251v8M765.5 514v6M766.5 569v6M767.5 303v6M767.5 575v13M767.5 599v17M768.5 547v10M769.5 283v6M769.5 498v12M769.5 521v40M769.5 575v31M770.5 258v9M771.5 531v9M771.5 555v16M771.5 586v17M772.5 273v4M772.5 495v30M772.5 545v7M772.5 562v6M772.5 593v16M773.5 515v17M773.5 595v16M774.5 251v3M774.5 277v4M774.5 499v36M774.5 567v4M775.5 281v10M775.5 303v8M775.5 500v17M776.5 520v47M777.5 268v9M777.5 310v9M777.5 612v27M778.5 277v6M778.5 289v9M778.5 303v3M778.5 499v47M778.5 593v5M778.5 635v15M779.5 262v6M779.5 293v6M779.5 311v4M779.5 525v24M780.5 274v5M780.5 493v15M780.5 529v5M780.5 567v5M781.5 510v6M781.5 536v14M781.5 573v2M782.5 270v17M782.5 602v13M782.5 653v8M783.5 264v9M783.5 308v2M783.5 524v17M783.5 559v14M783.5 577v10M783.5 605v22M784.5 294v9M784.5 621v40M785.5 285v7M785.5 505v30M785.5 549v20M785.5 575v20M785.5 608v38M786.5 500v7M786.5 523v10M787.5 485v5M787.5 553v13M787.5 583v19M787.5 644v9M788.5 272v12M788.5 297v3M788.5 585v18M789.5 572v3M791.5 590v19M791.5 624v15M792.5 572v3M792.5 631v11M792.5 659v1M793.5 546v21M794.5 596v11M795.5 267v4M795.5 280v8M795.5 570v5M796.5 268v10M796.5 532v21M796.5 586v21M797.5 277v7M797.5 569v6M797.5 612v6M798.5 497v16M798.5 568v7M798.5 582v25M799.5 526v30M799.5 584v14M799.5 619v12M799.5 649v11M800.5 510v18M800.5 536v15M800.5 575v19M800.5 611v15M801.5 586v18M802.5 553v7M803.5 627v12M805.5 483v14M805.5 570v4M806.5 487v10M806.5 523v33M806.5 572v3M806.5 608v13M806.5 638v17M807.5 484v17M807.5 530v15M807.5 550v21M808.5 512v22M808.5 540v18M809.5 575v12M809.5 643v16M810.5 530v20M810.5 641v6M811.5 558v15M812.5 548v15M812.5 667v4M813.5 485v6M813.5 500v15M813.5 520v12M815.5 539v14M815.5 582v10M816.5 518v6M816.5 575v7M819.5 562v13M822.5 526v46M825.5 512v29M825.5 557v18M826.5 500v9M826.5 559v11M827.5 575v10M829.5 509v37M831.5 504v6M831.5 513v4M831.5 524v6M831.5 552v3M832.5 507v5M833.5 527v48M834.5 499v14M834.5 521v22M834.5 554v14M835.5 531v8M835.5 570v5M836.5 510v15M836.5 534v28M838.5 497v5M838.5 512v14M838.5 545v23M839.5 497v3M839.5 539v6M839.5 571v4M840.5 499v14M840.5 523v5M840.5 561v14M841.5 514v6M842.5 497v4M842.5 517v8M842.5 533v22M842.5 564v5M843.5 498v20M843.5 524v26M843.5 556v18M844.5 503v5M844.5 517v10M844.5 545v28M844.5 578v3M845.5 499v14M845.5 522v22M845.5 561v9M847.5 520v15M847.5 545v12M847.5 561v13M848.5 519v11M848.5 551v23M849.5 567v8M850.5 507v12M850.5 536v22M850.5 568v7M851.5 519v13M851.5 542v32M851.5 581v8M852.5 519v10M852.5 533v9M852.5 552v14M852.5 575v13M853.5 500v8M853.5 541v15M853.5 562v9M854.5 505v4M854.5 517v24M854.5 565v10M855.5 573v2M855.5 579v3M856.5 501v9M856.5 515v10M856.5 530v13M856.5 549v17M856.5 583v5M857.5 500v21M857.5 526v3M857.5 534v6M857.5 550v3M857.5 556v8M857.5 572v3M858.5 499v60M858.5 571v4M859.5 502v6M859.5 548v5M859.5 571v13M860.5 267v8M860.5 500v18M860.5 521v11M860.5 550v5M860.5 565v3M861.5 574v1M861.5 588v4M861.5 596v24M861.5 628v16M861.5 651v5M862.5 575v14M863.5 506v66M864.5 502v3M864.5 514v9M864.5 535v8M864.5 551v22M865.5 526v6M865.5 542v5M865.5 552v3M865.5 605v7M867.5 570v9M868.5 506v21M868.5 532v4M868.5 551v9M868.5 564v21M869.5 514v14M869.5 547v6M869.5 575v17M870.5 505v7M870.5 520v8M870.5 532v10M870.5 557v10M870.5 575v15M871.5 503v7M871.5 514v3M871.5 525v12M871.5 544v31M872.5 505v18M872.5 542v4M872.5 564v3M872.5 585v9M873.5 505v4M873.5 519v7M873.5 533v6M873.5 555v8M873.5 570v21M874.5 551v6M874.5 584v3M875.5 531v5M875.5 580v6M876.5 269v5M876.5 279v6M876.5 511v18M876.5 538v10M876.5 553v20M876.5 575v13M877.5 583v10M878.5 509v10M878.5 546v4M878.5 570v5M879.5 536v4M879.5 549v9M880.5 498v10M880.5 513v4M880.5 537v10M880.5 556v7M880.5 566v14M881.5 498v21M881.5 522v6M881.5 540v3M881.5 557v7M881.5 569v6M881.5 583v10M882.5 510v7M882.5 529v10M882.5 549v10M882.5 604v5M882.5 658v10M883.5 504v3M883.5 520v9M883.5 539v8M883.5 553v15M883.5 581v5M884.5 501v7M884.5 522v48M885.5 575v9M886.5 502v5M886.5 539v18M886.5 605v11M886.5 635v3M886.5 641v5M886.5 670v4M887.5 512v6M887.5 528v23M887.5 559v6M887.5 577v13M889.5 558v2M889.5 587v10M890.5 504v4M890.5 512v4M890.5 524v22M890.5 639v7M891.5 507v3M891.5 513v35M892.5 506v6M892.5 520v6M892.5 541v9M892.5 557v4M893.5 505v13M893.5 531v6M893.5 546v8M894.5 506v9M894.5 531v7M895.5 505v5M895.5 517v24M895.5 548v9M896.5 513v7M896.5 538v19M896.5 581v10M897.5 514v10M897.5 543v11M898.5 512v10M898.5 543v11M898.5 582v10M899.5 584v4M900.5 531v7M900.5 543v11M902.5 501v8M903.5 506v21M903.5 535v20M904.5 504v4M904.5 513v12M904.5 533v9M905.5 211v2M905.5 538v3M905.5 583v6M906.5 529v6M907.5 506v9M907.5 533v6M907.5 583v9M908.5 504v18M908.5 543v9M908.5 555v7M908.5 593v9M909.5 256v7M909.5 270v13M909.5 507v3M909.5 517v7M909.5 531v7M909.5 543v12M910.5 506v17M910.5 536v15M910.5 561v1M912.5 507v6"/><path stroke="#4b7000" d="M106.5 505v25M106.5 533v3M106.5 578v2M106.5 587v2M107.5 496v6M108.5 498v3M108.5 523v6M109.5 526v1M110.5 510v3M110.5 520v8M111.5 492v8M111.5 514v12M111.5 575v5M111.5 587v4M112.5 522v11M113.5 499v6M113.5 515v9M113.5 530v1M113.5 651v2M114.5 493v15M114.5 520v3M114.5 586v3M115.5 502v23M116.5 497v9M116.5 515v21M117.5 495v25M117.5 527v15M118.5 502v7M118.5 521v5M118.5 578v2M119.5 496v8M119.5 531v6M121.5 59v2M122.5 504v27M122.5 586v3M122.5 591v3M123.5 587v2M124.5 500v6M124.5 510v14M124.5 528v6M125.5 577v6M126.5 496v3M126.5 507v4M126.5 524v4M126.5 581v2M127.5 497v13M127.5 532v6M128.5 503v3M128.5 528v10M128.5 581v7M129.5 502v15M129.5 526v5M130.5 499v8M131.5 510v18M131.5 534v4M132.5 514v8M132.5 531v4M132.5 580v4M132.5 588v1M133.5 501v8M134.5 575v5M134.5 605v5M136.5 509v7M136.5 522v4M136.5 529v8M137.5 510v17M137.5 581v4M138.5 510v5M138.5 521v16M139.5 530v12M140.5 509v3M141.5 582v2M142.5 565v3M142.5 573v16M144.5 567v2M146.5 590v5M146.5 596v5M147.5 522v6M147.5 545v2M148.5 586v7M150.5 587v5M152.5 585v7M153.5 589v6M155.5 514v8M155.5 530v1M156.5 515v6M156.5 530v4M157.5 593v16M157.5 633v3M158.5 571v5M159.5 520v4M159.5 578v4M159.5 589v6M160.5 589v4M162.5 587v4M163.5 581v3M163.5 586v5M164.5 505v4M164.5 519v5M165.5 579v6M165.5 593v1M166.5 581v6M168.5 575v2M168.5 583v3M169.5 503v7M169.5 513v5M169.5 523v13M170.5 416v2M170.5 502v7M170.5 525v8M170.5 576v6M173.5 597v1M174.5 599v13M174.5 620v3M175.5 587v9M175.5 616v6M176.5 516v5M177.5 573v2M178.5 591v3M179.5 577v2M180.5 589v2M181.5 590v8M182.5 579v4M182.5 585v6M183.5 593v2M184.5 521v9M184.5 583v8M185.5 588v6M187.5 592v3M189.5 594v3M190.5 586v3M191.5 585v5M192.5 593v4M193.5 588v8M194.5 585v9M200.5 586v7M203.5 594v2M204.5 585v6M206.5 592v3M206.5 597v2M207.5 586v2M207.5 598v1M208.5 583v2M209.5 595v4M210.5 582v2M213.5 594v3M214.5 585v4M216.5 590v2M216.5 598v1M219.5 588v2M219.5 594v2M221.5 591v6M222.5 595v4M223.5 583v5M223.5 591v8M225.5 588v3M227.5 583v2M228.5 583v6M231.5 592v3M234.5 583v7M235.5 583v10M235.5 596v3M239.5 589v2M240.5 593v3M242.5 587v8M244.5 587v4M250.5 588v8M253.5 596v4M254.5 593v2M258.5 593v4M260.5 586v10M262.5 597v4M263.5 586v4M263.5 592v8M264.5 589v3M265.5 592v5M265.5 605v2M266.5 584v5M266.5 595v2M267.5 584v10M268.5 586v12M270.5 588v4M270.5 596v4M272.5 585v2M272.5 595v3M273.5 584v6M273.5 596v2M275.5 601v1M276.5 586v2M277.5 592v3M278.5 589v5M278.5 600v2M280.5 590v4M280.5 598v2M281.5 586v8M281.5 596v2M283.5 587v11M284.5 587v8M285.5 592v2M285.5 599v1M287.5 589v12M291.5 593v6M292.5 590v9M293.5 590v6M296.5 594v6M298.5 601v6M298.5 614v2M300.5 591v3M301.5 595v2M303.5 595v3M351.5 470v2M382.5 269v2M467.5 247v2M502.5 552v5M503.5 544v6M503.5 554v10M505.5 544v14M505.5 564v5M508.5 557v6M515.5 572v4M516.5 554v5M517.5 546v3M517.5 557v9M519.5 549v11M519.5 567v8M520.5 544v4M522.5 574v1M523.5 561v8M526.5 553v5M526.5 564v6M527.5 579v2M529.5 571v8M530.5 568v5M531.5 547v8M531.5 578v4M532.5 561v17M533.5 546v8M534.5 541v4M534.5 553v7M535.5 567v7M535.5 579v1M536.5 545v5M537.5 547v8M537.5 560v4M537.5 571v7M538.5 544v28M539.5 547v6M543.5 548v8M543.5 571v9M544.5 545v12M544.5 569v3M549.5 539v7M549.5 559v6M549.5 577v4M550.5 556v9M554.5 562v6M554.5 574v7M556.5 539v8M556.5 571v6M559.5 575v4M560.5 549v7M560.5 564v8M560.5 581v1M643.5 603v4M652.5 575v19M652.5 600v7M655.5 599v10M665.5 586v18M666.5 266v4M666.5 279v1M667.5 553v3M668.5 271v4M671.5 269v9M672.5 258v14M672.5 276v9M673.5 285v6M675.5 260v5M675.5 285v3M675.5 519v9M676.5 582v5M676.5 593v7M677.5 258v13M677.5 516v25M677.5 546v14M677.5 585v23M678.5 257v7M678.5 283v7M678.5 586v21M679.5 264v5M679.5 280v8M679.5 534v7M680.5 258v7M680.5 516v30M680.5 556v1M680.5 575v22M681.5 249v13M681.5 265v17M681.5 543v16M681.5 573v2M681.5 596v10M682.5 255v4M682.5 273v9M682.5 286v1M684.5 530v5M685.5 515v10M685.5 533v8M686.5 265v7M686.5 510v6M686.5 542v1M687.5 266v1M687.5 519v13M688.5 517v18M688.5 538v10M690.5 516v9M690.5 534v12M691.5 532v3M691.5 541v10M692.5 519v7M692.5 535v16M693.5 572v3M694.5 514v10M695.5 549v2M696.5 528v28M696.5 588v19M697.5 575v18M700.5 548v10M701.5 525v7M701.5 536v15M701.5 584v12M704.5 576v18M705.5 517v18M705.5 557v7M706.5 562v5M707.5 299v2M708.5 299v2M710.5 588v13M710.5 634v6M711.5 530v21M711.5 585v5M711.5 601v2M713.5 561v3M714.5 556v4M714.5 576v34M716.5 603v2M717.5 550v7M718.5 505v31M718.5 544v4M718.5 575v5M719.5 572v3M719.5 644v1M720.5 507v20M720.5 537v4M720.5 550v11M721.5 557v6M722.5 576v17M723.5 585v16M723.5 643v2M724.5 524v3M724.5 570v5M726.5 571v4M727.5 536v10M727.5 575v11M727.5 604v2M728.5 514v15M728.5 536v19M728.5 576v21M730.5 524v8M730.5 536v15M730.5 588v22M731.5 540v6M733.5 574v1M734.5 278v9M734.5 501v9M734.5 516v10M734.5 531v16M735.5 276v2M736.5 572v3M737.5 278v7M737.5 499v14M738.5 278v9M739.5 566v9M740.5 569v6M741.5 535v15M741.5 606v9M744.5 502v17M744.5 530v18M744.5 581v26M744.5 656v3M745.5 506v32M745.5 605v10M746.5 540v23M748.5 506v15M748.5 535v40M749.5 292v2M749.5 581v11M749.5 606v7M750.5 284v4M750.5 525v17M751.5 277v6M751.5 290v6M751.5 590v11M752.5 508v16M752.5 575v36M753.5 269v4M755.5 260v3M755.5 270v9M755.5 499v18M755.5 538v37M755.5 594v15M756.5 278v9M756.5 295v5M757.5 297v4M758.5 268v8M758.5 502v38M758.5 559v16M759.5 252v3M759.5 271v4M759.5 502v20M759.5 554v21M760.5 504v13M760.5 532v5M760.5 571v4M761.5 608v6M761.5 655v4M762.5 281v8M762.5 553v9M762.5 647v7M762.5 658v1M763.5 252v11M763.5 512v17M763.5 544v5M763.5 569v6M763.5 601v16M764.5 265v13M764.5 296v8M764.5 500v5M764.5 515v5M764.5 564v7M764.5 585v5M765.5 290v5M765.5 299v5M765.5 541v29M766.5 258v8M766.5 523v21M766.5 562v7M767.5 257v8M767.5 295v8M767.5 538v10M768.5 251v6M768.5 273v5M768.5 498v8M768.5 575v30M769.5 265v5M769.5 289v6M769.5 647v7M770.5 284v6M771.5 251v8M771.5 269v4M771.5 572v14M771.5 643v16M772.5 249v5M772.5 269v4M772.5 305v4M772.5 587v6M773.5 497v18M773.5 543v6M773.5 558v37M774.5 294v9M774.5 551v16M774.5 623v7M775.5 260v12M775.5 578v20M777.5 263v5M777.5 296v6M777.5 526v11M777.5 557v14M778.5 264v4M778.5 306v9M778.5 546v18M778.5 598v20M779.5 308v3M779.5 498v18M779.5 549v23M779.5 605v16M779.5 650v9M780.5 534v12M780.5 642v14M781.5 283v3M781.5 295v16M781.5 494v16M781.5 516v20M781.5 600v13M781.5 631v14M782.5 304v5M782.5 639v14M783.5 298v6M784.5 271v7M784.5 502v48M784.5 595v10M784.5 612v9M785.5 595v13M786.5 533v41M786.5 583v11M787.5 296v4M787.5 617v27M788.5 300v5M789.5 270v7M789.5 520v15M790.5 492v23M791.5 573v17M791.5 609v15M791.5 639v18M792.5 274v3M792.5 491v23M792.5 543v23M793.5 525v6M794.5 269v8M794.5 281v13M795.5 575v18M795.5 617v42M796.5 498v14M796.5 607v17M796.5 656v3M797.5 498v52M797.5 628v11M798.5 513v55M798.5 623v13M799.5 631v18M800.5 497v13M800.5 528v8M800.5 626v17M801.5 535v33M801.5 575v11M802.5 534v19M804.5 487v21M804.5 547v15M804.5 573v23M804.5 637v5M804.5 660v1M805.5 508v16M805.5 544v15M806.5 575v15M806.5 660v1M806.5 662v3M807.5 512v18M807.5 578v33M807.5 625v19M808.5 484v28M808.5 534v6M809.5 659v2M810.5 494v20M813.5 491v9M813.5 515v5M813.5 544v31M817.5 492v17M817.5 555v19M818.5 511v15M818.5 557v13M819.5 490v42M819.5 544v18M820.5 492v6M820.5 511v37M820.5 555v10M821.5 492v43M822.5 520v6M826.5 528v14M826.5 570v5M831.5 510v3M831.5 517v7M831.5 540v8M831.5 555v20M834.5 568v5M835.5 499v24M835.5 550v12M838.5 534v11M839.5 500v10M839.5 513v22M839.5 545v26M842.5 507v10M843.5 518v6M843.5 550v6M844.5 527v7M845.5 513v9M848.5 503v16M848.5 530v21M848.5 574v1M851.5 508v7M851.5 575v6M853.5 508v9M853.5 522v6M853.5 537v4M853.5 556v6M853.5 571v4M854.5 509v8M854.5 550v6M856.5 510v5M856.5 525v5M856.5 543v6M856.5 566v9M857.5 529v5M857.5 540v10M857.5 553v3M859.5 584v6M860.5 518v3M860.5 532v18M860.5 560v5M860.5 568v7M861.5 505v5M861.5 513v16M861.5 539v14M861.5 561v4M861.5 570v4M864.5 505v9M864.5 526v9M864.5 573v15M865.5 578v10M869.5 261v7M869.5 505v9M869.5 539v8M869.5 569v6M871.5 510v4M872.5 533v9M872.5 575v4M873.5 526v7M873.5 539v16M873.5 563v7M874.5 575v9M875.5 536v9M876.5 285v1M876.5 529v9M876.5 548v5M876.5 573v2M877.5 505v8M877.5 557v14M877.5 575v8M878.5 555v3M880.5 521v7M880.5 580v8M881.5 575v8M882.5 375v2M882.5 507v3M882.5 517v12M882.5 559v29M883.5 517v3M883.5 568v13M884.5 508v14M884.5 570v5M884.5 582v4M886.5 649v9M886.5 665v5M888.5 585v10M889.5 504v5M889.5 512v7M889.5 530v28M889.5 583v4M890.5 508v4M892.5 503v3M892.5 512v8M892.5 526v15M892.5 550v7M893.5 518v13M893.5 537v9M893.5 554v4M895.5 514v3M895.5 541v7M896.5 508v5M896.5 520v9M896.5 533v5M897.5 524v9M898.5 501v11M898.5 522v15M899.5 508v4M899.5 520v6M899.5 530v5M899.5 544v6M900.5 508v6M900.5 518v13M900.5 554v4M902.5 509v34M903.5 527v8M904.5 508v5M904.5 551v4M907.5 515v4M907.5 528v5M907.5 548v11M908.5 260v6M908.5 522v12M908.5 552v3M909.5 510v7M910.5 523v10M910.5 551v5"/><path stroke="#626a00" d="M105.5 494v19M105.5 522v3M105.5 533v9M105.5 584v7M106.5 580v7M107.5 492v4M107.5 511v7M107.5 524v4M108.5 490v8M108.5 509v8M109.5 490v10M109.5 508v18M109.5 587v5M110.5 489v8M110.5 500v3M110.5 513v7M110.5 575v6M111.5 500v14M111.5 526v2M112.5 496v6M112.5 514v8M113.5 505v10M113.5 524v6M114.5 508v12M114.5 577v2M115.5 525v7M116.5 506v9M116.5 536v2M117.5 579v5M118.5 498v4M118.5 509v12M118.5 526v14M120.5 499v15M120.5 517v4M120.5 532v4M121.5 511v22M121.5 581v12M123.5 582v5M123.5 589v6M124.5 496v4M124.5 524v4M125.5 590v2M126.5 511v6M126.5 537v1M128.5 500v3M128.5 514v14M128.5 576v2M131.5 504v6M132.5 573v7M132.5 584v4M133.5 509v4M133.5 521v10M134.5 580v11M136.5 537v1M136.5 582v6M137.5 574v3M137.5 585v3M140.5 575v4M140.5 585v8M141.5 576v3M141.5 591v5M143.5 568v2M144.5 593v2M145.5 568v6M145.5 579v5M145.5 588v4M145.5 595v1M146.5 566v2M146.5 587v3M147.5 541v4M149.5 574v2M150.5 584v3M150.5 592v2M152.5 573v7M153.5 586v3M155.5 586v5M156.5 521v9M156.5 572v7M156.5 586v5M157.5 576v5M158.5 586v8M159.5 582v7M160.5 571v5M160.5 579v10M162.5 591v1M163.5 565v2M163.5 591v1M164.5 567v16M164.5 588v5M165.5 566v3M165.5 590v3M166.5 587v2M168.5 568v7M168.5 577v6M168.5 588v5M169.5 510v3M169.5 518v5M172.5 586v4M173.5 578v8M173.5 593v4M174.5 582v3M174.5 592v5M176.5 573v10M176.5 586v3M178.5 572v19M187.5 582v7M190.5 589v6M192.5 591v2M206.5 599v1M207.5 590v5M207.5 597v1M208.5 589v6M209.5 583v12M211.5 584v7M212.5 585v4M212.5 591v5M213.5 583v4M214.5 589v8M216.5 583v2M218.5 584v2M218.5 592v5M219.5 584v4M222.5 583v2M224.5 590v6M225.5 585v3M226.5 584v4M229.5 588v3M229.5 594v5M230.5 588v2M230.5 592v4M231.5 585v2M233.5 583v4M233.5 589v6M234.5 595v3M238.5 583v4M238.5 598v1M239.5 585v4M240.5 584v9M240.5 596v1M241.5 591v6M242.5 595v2M243.5 587v11M246.5 593v4M254.5 595v4M255.5 587v2M257.5 588v4M260.5 596v2M264.5 584v5M265.5 584v3M265.5 589v3M265.5 597v4M266.5 589v6M269.5 593v2M272.5 587v4M274.5 587v3M275.5 593v8M276.5 595v2M277.5 595v5M278.5 587v2M278.5 594v6M280.5 586v4M281.5 594v2M284.5 595v5M285.5 587v5M285.5 594v5M286.5 593v6M288.5 587v7M289.5 595v6M290.5 590v2M294.5 595v4M301.5 593v2M301.5 597v2M307.5 592v5M317.5 596v4M318.5 595v3M323.5 597v1M326.5 592v4M394.5 241v2M457.5 118v2M488.5 553v2M504.5 542v28M505.5 569v1M514.5 553v11M515.5 552v5M516.5 559v9M516.5 572v4M517.5 566v11M519.5 560v7M520.5 566v8M522.5 560v3M523.5 543v8M523.5 569v4M524.5 563v8M525.5 544v5M526.5 545v8M531.5 555v6M532.5 531v2M533.5 558v3M534.5 573v5M535.5 551v11M535.5 574v5M536.5 550v5M536.5 564v3M536.5 575v6M537.5 544v3M538.5 572v8M539.5 544v3M539.5 561v19M542.5 550v7M542.5 567v7M544.5 560v4M547.5 565v8M548.5 542v5M548.5 559v8M550.5 551v5M550.5 565v7M555.5 545v3M555.5 554v7M555.5 571v10M556.5 577v4M563.5 534v3M563.5 563v8M564.5 557v4M565.5 550v5M565.5 570v8M566.5 566v3M567.5 603v3M628.5 581v15M643.5 575v19M655.5 532v7M655.5 575v24M656.5 602v8M657.5 596v13M659.5 527v15M659.5 551v8M660.5 520v15M660.5 554v6M662.5 542v9M663.5 516v5M663.5 530v4M663.5 540v15M663.5 585v12M667.5 515v9M667.5 533v20M667.5 605v3M668.5 518v4M668.5 575v17M669.5 253v21M670.5 575v20M671.5 254v6M672.5 272v4M672.5 596v11M673.5 575v19M673.5 600v10M674.5 532v16M674.5 575v17M675.5 528v28M676.5 555v4M676.5 567v8M676.5 587v6M677.5 541v5M678.5 264v10M679.5 595v10M680.5 546v10M680.5 572v3M681.5 282v8M681.5 517v26M682.5 259v14M682.5 514v7M682.5 530v15M682.5 556v2M682.5 572v20M682.5 605v3M683.5 258v5M683.5 271v6M683.5 575v14M684.5 257v13M684.5 514v16M684.5 542v1M684.5 575v21M685.5 510v5M685.5 525v3M686.5 257v8M686.5 573v2M687.5 259v7M687.5 510v9M687.5 532v11M688.5 256v7M688.5 514v3M688.5 535v3M688.5 574v1M688.5 594v10M691.5 575v20M692.5 526v9M694.5 534v17M694.5 575v11M694.5 598v6M695.5 510v8M695.5 528v4M695.5 540v9M695.5 602v3M696.5 301v2M696.5 521v7M696.5 607v1M703.5 596v8M705.5 597v6M707.5 288v4M707.5 592v11M708.5 634v3M710.5 575v13M710.5 627v7M711.5 575v10M713.5 575v32M713.5 626v5M713.5 638v7M715.5 592v18M716.5 575v12M717.5 591v15M720.5 533v4M720.5 541v9M721.5 519v33M721.5 563v3M722.5 593v14M722.5 631v8M723.5 575v10M727.5 586v18M730.5 575v13M731.5 575v13M733.5 571v3M733.5 591v23M734.5 553v7M735.5 570v19M740.5 592v10M742.5 498v16M742.5 605v12M744.5 548v11M744.5 607v8M745.5 573v2M746.5 513v11M746.5 650v2M746.5 658v3M747.5 575v26M748.5 527v8M748.5 583v10M750.5 575v17M750.5 601v8M751.5 575v15M752.5 275v14M752.5 532v10M753.5 651v5M754.5 269v13M756.5 287v8M757.5 276v5M757.5 290v7M757.5 499v17M758.5 252v11M758.5 293v4M758.5 596v16M759.5 258v6M759.5 297v6M760.5 254v12M760.5 272v6M760.5 289v20M760.5 537v14M760.5 636v7M760.5 647v5M760.5 657v2M761.5 586v11M762.5 303v2M762.5 514v26M762.5 568v7M762.5 640v3M763.5 263v9M763.5 277v14M763.5 500v12M763.5 529v15M763.5 588v8M765.5 259v23M765.5 501v13M765.5 594v22M767.5 265v8M767.5 507v31M767.5 548v10M768.5 291v9M769.5 274v4M770.5 278v6M770.5 306v5M770.5 521v10M770.5 570v5M770.5 599v16M772.5 627v26M773.5 308v5M773.5 532v11M773.5 549v9M773.5 622v6M774.5 287v7M774.5 596v16M774.5 620v2M774.5 630v31M774.5 662v1M776.5 604v15M777.5 305v5M778.5 283v6M778.5 298v5M780.5 576v30M781.5 286v3M781.5 567v6M781.5 575v25M781.5 613v5M781.5 645v16M781.5 662v1M782.5 532v19M782.5 564v5M784.5 284v7M784.5 303v4M784.5 489v13M784.5 550v25M785.5 271v8M785.5 651v9M786.5 294v13M786.5 575v8M786.5 594v16M786.5 628v6M786.5 641v6M787.5 277v6M787.5 575v8M787.5 602v15M788.5 503v32M788.5 551v10M790.5 575v31M790.5 620v35M792.5 268v6M792.5 514v9M793.5 504v21M793.5 531v15M794.5 505v40M794.5 587v9M796.5 286v3M796.5 512v20M796.5 553v9M796.5 637v19M797.5 604v8M797.5 618v10M797.5 649v10M798.5 662v3M801.5 504v31M801.5 568v7M801.5 616v8M801.5 643v16M804.5 513v18M804.5 562v11M804.5 596v20M804.5 642v18M808.5 558v13M809.5 512v20M817.5 487v5M817.5 509v46M818.5 500v11M818.5 526v31M819.5 532v12M820.5 498v13M824.5 510v17M824.5 571v4M825.5 493v2M831.5 530v10M831.5 548v4M835.5 523v3M835.5 539v11M835.5 562v4M839.5 510v3M839.5 535v4M853.5 517v5M853.5 528v9M858.5 271v11M860.5 275v1M860.5 555v5M861.5 501v4M861.5 510v3M861.5 529v10M861.5 553v8M861.5 565v5M861.5 575v6M865.5 575v3M868.5 265v5M869.5 271v4M871.5 267v4M872.5 579v6M874.5 230v2M875.5 276v7M876.5 264v5M876.5 274v5M877.5 261v6M877.5 513v44M877.5 571v4M882.5 502v5M882.5 539v10M884.5 259v8M884.5 575v7M886.5 575v4M886.5 584v5M889.5 509v3M889.5 519v11M898.5 537v6M899.5 284v4M899.5 501v7M899.5 526v4M899.5 550v5M900.5 271v6M902.5 543v10M905.5 256v5M905.5 286v3M907.5 261v8M907.5 539v9M908.5 276v5M908.5 534v9M908.5 584v9M909.5 351v2"/><path stroke="#746100" d="M105.5 513v9M105.5 525v8M105.5 542v1M105.5 577v7M106.5 573v5M107.5 502v9M107.5 518v6M107.5 587v3M108.5 501v8M108.5 585v3M109.5 500v8M109.5 573v8M110.5 587v5M111.5 580v7M112.5 502v12M113.5 496v3M113.5 572v9M113.5 584v8M114.5 572v5M114.5 589v5M116.5 573v8M116.5 588v6M117.5 586v8M118.5 580v7M118.5 659v2M119.5 659v2M120.5 514v3M120.5 521v11M120.5 573v3M120.5 584v6M120.5 659v2M121.5 499v9M121.5 576v5M121.5 659v2M122.5 574v3M122.5 581v5M122.5 594v1M122.5 626v2M122.5 659v2M123.5 575v7M123.5 626v2M123.5 659v2M124.5 577v4M124.5 626v2M125.5 583v7M125.5 626v2M126.5 626v2M127.5 578v6M127.5 593v1M127.5 626v2M128.5 626v2M129.5 626v2M130.5 580v4M130.5 590v4M130.5 626v2M131.5 528v6M131.5 626v2M132.5 626v2M133.5 513v8M133.5 531v5M133.5 579v11M133.5 626v2M134.5 626v2M135.5 626v2M136.5 626v2M138.5 582v2M143.5 570v5M143.5 587v5M144.5 589v4M145.5 592v3M146.5 659v2M147.5 568v27M147.5 659v2M148.5 659v2M149.5 580v7M149.5 659v2M150.5 659v2M151.5 576v3M151.5 590v3M152.5 580v5M154.5 580v7M155.5 572v6M157.5 572v4M157.5 585v8M158.5 576v10M159.5 573v5M162.5 569v18M163.5 574v7M163.5 584v2M168.5 593v1M172.5 581v5M173.5 586v7M174.5 576v6M175.5 650v3M177.5 659v2M178.5 659v2M179.5 659v2M181.5 577v13M182.5 583v2M182.5 659v2M183.5 659v2M184.5 659v2M184.5 669v3M185.5 659v2M186.5 582v6M186.5 592v4M186.5 626v2M187.5 589v3M187.5 626v2M188.5 581v6M188.5 590v2M188.5 626v2M189.5 587v7M189.5 626v2M190.5 626v2M191.5 626v2M192.5 585v6M192.5 626v2M194.5 594v2M195.5 585v12M197.5 595v2M205.5 635v1M206.5 635v1M207.5 583v3M207.5 588v2M207.5 595v2M207.5 635v1M208.5 635v1M209.5 635v1M210.5 635v1M211.5 591v8M211.5 635v1M212.5 596v2M212.5 635v1M213.5 635v1M214.5 635v1M215.5 635v1M216.5 588v2M216.5 592v6M216.5 635v1M217.5 635v1M218.5 586v6M218.5 635v1M219.5 596v2M219.5 635v1M220.5 584v14M220.5 635v1M222.5 585v10M224.5 583v7M224.5 596v2M226.5 594v4M228.5 659v2M229.5 584v4M229.5 659v2M230.5 583v5M230.5 590v2M230.5 652v4M232.5 587v3M233.5 587v2M234.5 590v5M235.5 593v3M237.5 591v4M238.5 587v8M239.5 591v8M241.5 597v2M245.5 592v3M246.5 586v7M246.5 626v2M246.5 659v2M247.5 588v4M247.5 626v2M247.5 659v2M248.5 595v3M248.5 626v2M248.5 659v2M249.5 587v6M249.5 626v2M249.5 659v2M250.5 598v1M250.5 626v2M251.5 592v5M251.5 626v2M252.5 592v6M252.5 626v2M253.5 626v2M254.5 589v4M255.5 589v2M255.5 595v6M257.5 598v2M258.5 587v6M259.5 588v13M264.5 592v4M267.5 594v4M272.5 591v4M272.5 650v3M274.5 590v8M275.5 587v6M278.5 649v4M280.5 665v3M281.5 657v2M286.5 599v1M287.5 655v4M288.5 594v6M289.5 590v5M290.5 588v2M294.5 589v6M298.5 590v6M299.5 596v2M300.5 594v4M302.5 626v2M303.5 592v3M303.5 626v2M304.5 593v7M304.5 626v2M305.5 626v2M306.5 626v2M307.5 597v1M307.5 626v2M308.5 626v2M309.5 626v2M310.5 597v3M310.5 626v2M311.5 594v2M315.5 597v3M322.5 597v2M323.5 593v4M325.5 595v2M326.5 598v1M328.5 593v6M332.5 672v2M337.5 626v2M338.5 626v2M339.5 626v2M340.5 626v2M341.5 626v2M342.5 626v2M343.5 626v2M344.5 626v2M345.5 626v2M346.5 626v2M347.5 626v2M348.5 626v2M349.5 626v2M350.5 626v2M351.5 626v2M352.5 626v2M353.5 626v2M355.5 653v3M360.5 671v2M364.5 664v2M374.5 659v2M375.5 659v2M376.5 659v2M422.5 646v3M432.5 626v2M433.5 626v2M434.5 626v2M435.5 626v2M441.5 648v4M448.5 662v2M451.5 635v1M452.5 635v1M453.5 635v1M453.5 660v1M454.5 635v1M454.5 659v2M455.5 635v1M456.5 635v1M457.5 635v1M458.5 635v1M459.5 635v1M460.5 635v1M460.5 650v3M461.5 635v1M471.5 649v2M479.5 262v2M481.5 626v2M482.5 626v2M483.5 626v2M484.5 626v2M485.5 626v2M486.5 626v2M487.5 626v2M488.5 626v2M489.5 626v2M490.5 626v2M491.5 626v2M492.5 626v2M493.5 626v2M493.5 663v2M495.5 657v4M497.5 626v2M497.5 670v4M498.5 626v2M499.5 626v2M504.5 655v3M512.5 645v4M512.5 660v1M513.5 659v2M514.5 564v3M514.5 659v2M515.5 557v6M515.5 566v6M515.5 659v2M516.5 659v2M517.5 549v8M517.5 659v2M522.5 542v18M522.5 563v5M523.5 551v3M524.5 543v20M525.5 549v12M526.5 558v6M527.5 552v7M527.5 566v3M528.5 562v6M531.5 539v8M532.5 541v20M532.5 578v2M539.5 553v8M540.5 577v4M541.5 555v14M541.5 575v5M542.5 557v4M542.5 574v6M544.5 542v3M544.5 572v5M545.5 550v8M547.5 573v3M548.5 547v5M548.5 567v5M548.5 658v4M548.5 665v3M549.5 600v2M550.5 547v4M550.5 577v3M550.5 667v4M551.5 552v8M551.5 575v4M551.5 626v2M552.5 626v2M553.5 626v2M554.5 542v5M554.5 555v7M554.5 626v2M555.5 541v4M555.5 564v7M555.5 626v2M556.5 626v2M557.5 567v5M557.5 626v2M558.5 626v2M559.5 554v7M559.5 626v2M560.5 540v5M561.5 568v5M563.5 541v7M563.5 571v10M564.5 532v5M564.5 569v3M565.5 533v4M567.5 596v7M570.5 635v1M571.5 635v1M572.5 635v1M573.5 635v1M574.5 635v1M575.5 635v1M576.5 559v4M576.5 565v6M576.5 635v1M577.5 635v1M578.5 635v1M579.5 635v1M580.5 635v1M581.5 635v1M582.5 635v1M583.5 635v1M584.5 635v1M585.5 635v1M586.5 635v1M587.5 635v1M588.5 635v1M604.5 58v2M604.5 626v2M605.5 626v2M606.5 626v2M606.5 669v4M607.5 626v2M608.5 626v2M609.5 626v2M610.5 626v2M611.5 626v2M612.5 626v2M613.5 626v2M613.5 662v4M614.5 626v2M615.5 626v2M616.5 626v2M621.5 659v2M622.5 659v2M625.5 603v3M628.5 596v9M629.5 665v3M633.5 604v4M634.5 592v3M634.5 654v3M636.5 603v3M640.5 652v2M641.5 600v5M643.5 568v6M644.5 575v28M646.5 575v16M646.5 598v9M649.5 596v5M651.5 566v7M652.5 528v13M652.5 544v9M653.5 599v5M654.5 568v4M655.5 519v13M655.5 543v3M656.5 575v9M657.5 530v8M657.5 575v21M658.5 530v16M659.5 518v9M659.5 542v9M659.5 575v34M660.5 546v8M661.5 571v4M662.5 575v6M662.5 589v11M663.5 521v9M663.5 534v6M663.5 575v10M664.5 545v5M664.5 573v2M665.5 526v11M665.5 553v5M665.5 575v11M666.5 589v16M667.5 524v9M667.5 573v2M668.5 522v19M668.5 551v10M668.5 570v5M668.5 592v12M669.5 527v20M669.5 550v8M670.5 520v3M670.5 542v8M671.5 278v10M671.5 540v11M671.5 573v2M672.5 526v25M672.5 569v6M673.5 522v24M673.5 556v5M673.5 574v1M674.5 522v10M674.5 548v8M674.5 568v7M674.5 592v9M675.5 570v5M675.5 667v4M676.5 518v22M676.5 549v6M676.5 626v2M677.5 626v2M678.5 524v37M678.5 626v2M679.5 626v2M680.5 626v2M681.5 575v21M681.5 626v2M682.5 521v9M682.5 545v11M682.5 592v6M683.5 263v8M683.5 511v14M683.5 528v10M683.5 546v13M683.5 594v10M683.5 659v2M684.5 270v7M684.5 659v2M685.5 528v5M685.5 541v1M685.5 571v4M686.5 596v9M687.5 252v7M689.5 575v33M690.5 596v9M691.5 595v11M691.5 659v2M692.5 635v1M692.5 659v2M693.5 635v1M693.5 659v2M694.5 511v3M694.5 524v10M694.5 586v12M694.5 635v1M694.5 659v2M695.5 518v10M695.5 532v8M695.5 576v26M695.5 635v1M695.5 659v2M696.5 575v13M696.5 635v1M696.5 660v1M697.5 635v1M698.5 635v1M699.5 635v1M701.5 575v9M701.5 596v12M702.5 575v28M702.5 666v3M703.5 575v21M705.5 575v22M706.5 593v8M706.5 649v2M707.5 575v17M708.5 575v10M708.5 641v4M710.5 601v2M711.5 636v4M712.5 585v15M717.5 575v16M717.5 606v1M717.5 649v2M719.5 626v6M720.5 575v6M721.5 503v16M721.5 552v5M721.5 594v12M723.5 626v6M726.5 575v6M726.5 600v9M729.5 575v36M729.5 633v2M731.5 588v20M734.5 607v4M735.5 596v19M736.5 586v6M740.5 575v17M742.5 514v36M742.5 575v9M745.5 567v6M745.5 584v21M745.5 657v4M747.5 601v14M747.5 634v7M747.5 646v6M747.5 655v4M748.5 593v18M748.5 638v6M749.5 276v7M750.5 275v3M750.5 592v9M751.5 648v7M752.5 260v15M752.5 496v6M753.5 607v6M754.5 259v7M754.5 648v5M755.5 255v5M757.5 261v5M757.5 582v20M758.5 575v21M758.5 612v4M759.5 294v3M759.5 659v2M760.5 278v4M760.5 551v20M760.5 652v5M760.5 659v2M761.5 575v11M761.5 659v2M762.5 250v4M762.5 270v6M762.5 296v7M762.5 499v15M762.5 659v2M763.5 575v13M763.5 659v2M763.5 664v2M764.5 604v13M765.5 570v12M767.5 285v3M767.5 500v7M767.5 564v11M770.5 298v3M770.5 311v2M770.5 506v15M770.5 531v20M770.5 575v14M771.5 624v19M771.5 662v1M774.5 579v17M775.5 623v12M775.5 656v3M776.5 575v19M776.5 619v19M777.5 664v3M778.5 268v9M779.5 516v9M780.5 614v18M780.5 656v4M781.5 263v9M781.5 289v6M781.5 550v17M782.5 502v14M784.5 291v3M785.5 298v3M786.5 272v4M786.5 288v6M786.5 481v2M786.5 634v7M788.5 535v16M788.5 561v7M789.5 285v3M790.5 655v5M792.5 277v7M794.5 492v13M794.5 545v20M796.5 562v4M797.5 268v9M797.5 662v1M804.5 531v16M805.5 598v25M809.5 486v15M809.5 532v14M818.5 488v12M824.5 499v11M824.5 527v18M861.5 581v7M864.5 273v6M866.5 257v5M866.5 265v3M868.5 257v8M868.5 270v7M869.5 268v3M875.5 263v8M877.5 267v9M879.5 269v4M883.5 257v4M883.5 268v5M884.5 267v2M886.5 579v5M898.5 266v4M899.5 512v8M899.5 535v9M902.5 261v5M902.5 270v13M903.5 258v7M903.5 272v10M904.5 255v5M904.5 283v7M905.5 66v2M905.5 253v3M905.5 267v19M906.5 279v3M908.5 255v5M908.5 286v2M909.5 263v7M910.5 281v6M912.5 264v6M912.5 283v2"/><path stroke="#895600" d="M105.5 574v3M107.5 575v5M108.5 517v6M110.5 581v6M112.5 581v8M113.5 581v3M114.5 579v7M116.5 581v7M117.5 577v2M117.5 584v2M118.5 587v3M119.5 582v2M119.5 590v5M120.5 576v8M120.5 590v4M121.5 508v3M121.5 593v2M122.5 577v4M124.5 581v6M125.5 663v4M126.5 659v2M127.5 591v2M127.5 659v2M128.5 659v2M129.5 574v15M129.5 659v2M130.5 573v7M130.5 659v2M133.5 576v3M133.5 590v1M134.5 573v2M135.5 574v6M135.5 646v2M137.5 577v4M138.5 576v6M138.5 584v8M139.5 585v6M140.5 571v4M140.5 579v6M143.5 575v6M143.5 657v2M144.5 569v6M145.5 574v5M145.5 584v4M147.5 664v2M149.5 571v3M149.5 587v8M149.5 648v4M150.5 571v6M151.5 570v6M151.5 579v8M152.5 656v3M153.5 648v4M154.5 571v3M155.5 578v8M157.5 581v4M164.5 583v5M164.5 593v1M168.5 586v2M168.5 672v2M171.5 664v4M172.5 590v2M176.5 589v6M186.5 588v4M196.5 593v1M196.5 659v2M197.5 585v6M197.5 659v2M198.5 659v2M199.5 659v2M200.5 659v2M201.5 659v2M205.5 587v9M208.5 585v4M208.5 656v3M212.5 659v2M213.5 659v2M214.5 652v3M214.5 659v2M215.5 659v2M216.5 659v2M220.5 598v1M227.5 656v3M229.5 591v3M230.5 596v2M232.5 584v3M232.5 590v9M237.5 585v6M238.5 595v3M240.5 646v4M245.5 587v5M247.5 592v6M248.5 589v2M251.5 589v3M252.5 588v4M254.5 599v1M255.5 591v4M257.5 592v6M259.5 601v1M265.5 587v2M267.5 652v2M279.5 672v2M286.5 658v3M288.5 659v2M289.5 659v2M290.5 592v7M296.5 591v3M297.5 597v1M299.5 592v4M304.5 354v2M305.5 593v7M309.5 593v4M309.5 659v2M310.5 659v2M311.5 659v2M314.5 595v4M314.5 667v1M315.5 594v3M316.5 669v4M319.5 594v3M323.5 665v2M326.5 596v2M329.5 592v6M329.5 664v2M334.5 659v2M335.5 659v2M347.5 657v3M349.5 646v4M349.5 665v4M351.5 650v2M356.5 662v2M361.5 659v2M362.5 659v2M369.5 652v2M370.5 647v3M378.5 671v3M379.5 659v2M380.5 660v1M381.5 659v2M390.5 658v2M392.5 652v3M393.5 659v2M394.5 659v2M400.5 180v2M402.5 658v2M403.5 645v3M404.5 649v4M412.5 659v2M413.5 659v2M416.5 656v2M426.5 670v2M431.5 659v2M432.5 659v2M433.5 659v2M433.5 670v3M434.5 659v2M435.5 659v2M442.5 659v2M443.5 659v2M444.5 659v2M445.5 659v2M453.5 657v3M467.5 659v2M468.5 659v2M478.5 659v2M479.5 659v2M479.5 668v2M480.5 659v2M481.5 659v2M482.5 659v2M483.5 659v2M513.5 650v4M515.5 654v3M516.5 546v8M520.5 659v2M521.5 659v2M522.5 659v2M523.5 659v2M524.5 659v2M525.5 659v2M527.5 563v3M527.5 571v8M528.5 577v5M536.5 555v3M541.5 569v6M542.5 561v6M544.5 564v5M545.5 542v8M545.5 577v5M546.5 541v17M547.5 540v17M548.5 577v3M550.5 541v6M550.5 595v6M551.5 579v3M552.5 579v3M553.5 541v8M554.5 547v3M555.5 561v3M557.5 572v6M559.5 536v18M559.5 561v8M559.5 579v1M559.5 593v8M560.5 595v7M561.5 549v8M562.5 532v3M562.5 561v5M562.5 579v2M562.5 590v3M564.5 552v5M564.5 576v5M564.5 659v2M565.5 561v3M565.5 593v8M565.5 659v2M566.5 183v2M566.5 532v4M566.5 539v27M566.5 569v11M566.5 659v2M567.5 557v3M567.5 659v2M568.5 546v8M568.5 659v2M568.5 666v3M569.5 596v5M569.5 670v4M570.5 558v7M571.5 545v8M574.5 665v4M575.5 551v3M575.5 594v8M576.5 538v17M576.5 590v7M576.5 600v4M578.5 541v8M581.5 663v2M582.5 539v19M585.5 538v10M585.5 556v5M585.5 590v9M585.5 603v2M585.5 659v2M586.5 532v6M586.5 543v14M586.5 659v2M587.5 659v2M588.5 530v10M588.5 551v3M588.5 659v2M593.5 599v8M595.5 548v8M596.5 531v14M596.5 555v2M596.5 590v3M599.5 540v12M601.5 659v2M602.5 659v2M603.5 659v2M604.5 645v3M604.5 659v2M605.5 584v9M606.5 536v5M606.5 584v23M609.5 525v10M609.5 539v6M609.5 552v4M609.5 594v6M611.5 664v4M613.5 527v7M615.5 532v25M616.5 597v5M617.5 592v10M618.5 603v4M619.5 669v2M622.5 513v10M622.5 540v6M625.5 582v21M627.5 518v4M628.5 605v2M630.5 594v9M633.5 585v19M634.5 595v8M636.5 587v16M637.5 558v3M638.5 585v10M639.5 585v10M640.5 549v5M641.5 575v25M642.5 575v19M643.5 556v5M644.5 663v2M646.5 520v27M646.5 554v4M646.5 591v7M647.5 595v8M648.5 562v7M648.5 572v3M649.5 522v18M649.5 548v8M649.5 607v1M650.5 549v10M650.5 572v3M650.5 586v20M651.5 575v12M651.5 603v1M652.5 524v4M652.5 541v3M652.5 553v9M652.5 607v1M653.5 519v9M653.5 531v7M653.5 547v3M654.5 572v33M655.5 539v4M655.5 546v15M655.5 571v4M655.5 647v4M656.5 584v18M657.5 521v9M657.5 538v22M658.5 520v10M658.5 546v13M659.5 569v6M660.5 535v11M660.5 575v20M661.5 523v7M661.5 540v4M661.5 552v5M661.5 655v2M662.5 520v22M662.5 551v4M662.5 571v3M662.5 581v8M662.5 600v8M663.5 555v4M663.5 568v6M663.5 665v2M664.5 520v25M664.5 554v2M664.5 570v3M665.5 519v7M665.5 537v16M665.5 558v3M665.5 573v2M666.5 519v14M666.5 541v8M666.5 556v3M666.5 575v14M667.5 568v5M667.5 645v2M668.5 541v10M669.5 519v8M669.5 547v3M669.5 575v11M669.5 599v10M670.5 523v19M670.5 550v9M670.5 567v8M671.5 520v20M671.5 555v3M672.5 521v5M672.5 551v5M672.5 575v21M673.5 546v10M673.5 568v6M675.5 580v16M676.5 540v9M677.5 572v3M678.5 516v8M678.5 571v15M678.5 650v2M679.5 573v22M683.5 251v7M683.5 277v4M683.5 525v3M683.5 538v4M683.5 571v4M684.5 574v1M684.5 596v10M685.5 575v17M686.5 575v21M687.5 575v18M690.5 575v21M692.5 670v2M698.5 575v13M705.5 654v2M706.5 575v18M706.5 646v3M708.5 585v19M708.5 629v3M709.5 599v8M709.5 658v4M712.5 575v10M712.5 638v7M715.5 575v17M717.5 671v3M718.5 626v5M720.5 581v29M721.5 576v18M722.5 653v3M725.5 587v17M728.5 637v7M732.5 575v20M732.5 604v7M733.5 575v16M733.5 638v5M735.5 589v7M736.5 575v11M736.5 592v17M738.5 575v17M738.5 606v8M738.5 656v3M739.5 575v9M739.5 598v15M742.5 584v21M743.5 646v3M743.5 659v2M744.5 659v2M746.5 654v4M748.5 575v8M748.5 635v3M748.5 644v13M752.5 289v8M752.5 641v6M753.5 586v21M754.5 653v2M756.5 575v20M757.5 284v6M757.5 575v7M757.5 602v8M758.5 645v2M762.5 276v5M762.5 540v5M763.5 272v5M765.5 282v8M767.5 273v3M770.5 251v4M770.5 267v7M773.5 263v7M773.5 301v7M776.5 638v21M780.5 606v8M780.5 632v10M783.5 669v2M784.5 268v3M785.5 279v6M785.5 292v6M785.5 669v2M786.5 276v4M786.5 657v4M786.5 662v2M788.5 294v3M788.5 486v17M789.5 277v8M789.5 288v5M789.5 300v6M790.5 279v8M792.5 261v7M792.5 284v17M793.5 266v5M794.5 277v4M794.5 659v2M795.5 659v2M796.5 659v2M797.5 659v2M798.5 659v2M801.5 493v11M805.5 666v3M809.5 566v8M829.5 659v2M830.5 659v2M831.5 659v2M862.5 271v4M864.5 262v11M865.5 271v4M866.5 268v9M870.5 265v5M874.5 265v11M875.5 271v5M877.5 276v11M878.5 279v4M879.5 279v1M881.5 258v5M881.5 275v4M883.5 261v7M885.5 258v9M897.5 265v7M899.5 274v6M900.5 285v3M902.5 257v4M902.5 266v4M903.5 255v3M903.5 265v7M904.5 260v4M904.5 270v13M905.5 261v6M906.5 259v3M906.5 282v7M907.5 278v7M908.5 266v4M910.5 262v4M910.5 287v1M911.5 257v8M912.5 260v4M912.5 270v13"/><path stroke="#a14700" d="M105.5 591v1M105.5 661v1M106.5 661v1M107.5 583v4M107.5 661v1M108.5 661v1M109.5 661v1M110.5 661v1M111.5 661v1M112.5 576v5M112.5 661v1M113.5 661v1M114.5 661v1M115.5 661v1M116.5 661v1M117.5 661v1M117.5 670v2M118.5 573v5M118.5 590v3M118.5 661v1M119.5 578v4M119.5 584v2M119.5 661v1M120.5 661v1M121.5 661v1M122.5 589v2M122.5 661v1M123.5 661v1M124.5 587v8M124.5 661v1M125.5 661v1M126.5 661v1M127.5 584v7M127.5 661v1M128.5 661v1M129.5 661v1M130.5 584v6M130.5 661v1M131.5 574v6M131.5 585v3M131.5 661v1M132.5 661v1M133.5 661v1M134.5 661v1M135.5 580v12M135.5 661v1M136.5 661v1M137.5 661v1M138.5 572v4M138.5 661v1M139.5 570v2M139.5 591v2M139.5 661v1M140.5 661v1M141.5 661v1M142.5 661v1M143.5 661v1M144.5 575v14M144.5 661v1M145.5 661v1M146.5 661v1M147.5 661v1M148.5 661v1M149.5 661v1M150.5 577v7M150.5 661v5M151.5 587v3M151.5 661v1M152.5 661v1M153.5 661v1M154.5 574v6M154.5 590v2M154.5 661v1M155.5 659v3M156.5 659v3M157.5 659v3M158.5 659v3M159.5 659v3M160.5 659v3M161.5 661v1M162.5 661v1M163.5 658v3M164.5 661v1M165.5 661v1M166.5 661v1M167.5 661v1M168.5 659v3M169.5 659v3M170.5 659v3M171.5 659v3M172.5 574v7M172.5 661v1M173.5 661v1M174.5 585v7M174.5 661v1M175.5 661v1M176.5 583v3M176.5 661v1M177.5 661v1M178.5 661v1M179.5 648v3M179.5 661v1M180.5 661v1M180.5 670v2M181.5 661v1M182.5 661v1M183.5 661v5M184.5 661v1M185.5 661v1M186.5 566v2M186.5 658v4M187.5 661v1M188.5 587v3M188.5 661v1M189.5 661v1M190.5 661v1M191.5 661v1M192.5 661v1M193.5 649v2M193.5 661v1M194.5 661v1M195.5 661v1M196.5 588v5M196.5 661v1M197.5 591v4M197.5 661v1M198.5 661v1M199.5 661v1M200.5 661v1M201.5 661v1M202.5 661v1M203.5 661v1M204.5 661v1M205.5 583v4M205.5 596v4M205.5 661v1M206.5 661v1M207.5 661v1M208.5 651v3M208.5 661v1M209.5 661v1M210.5 661v1M211.5 648v4M211.5 661v1M212.5 661v1M213.5 661v1M214.5 661v1M215.5 661v1M216.5 661v1M217.5 661v1M218.5 661v1M219.5 661v1M220.5 661v1M221.5 661v1M222.5 661v1M223.5 650v4M223.5 661v1M224.5 661v1M225.5 661v1M226.5 661v1M227.5 661v1M228.5 661v1M229.5 661v1M230.5 659v3M230.5 671v3M231.5 659v3M232.5 659v3M233.5 659v3M234.5 659v3M235.5 659v3M236.5 661v1M237.5 595v4M237.5 661v1M238.5 661v1M239.5 661v1M240.5 661v1M241.5 661v1M242.5 661v1M243.5 661v1M243.5 667v4M244.5 661v1M245.5 661v1M246.5 661v1M247.5 661v1M248.5 591v4M248.5 661v1M249.5 661v1M250.5 661v1M251.5 661v1M252.5 661v1M253.5 661v1M254.5 661v1M255.5 661v1M255.5 668v4M256.5 661v1M257.5 661v1M258.5 661v1M260.5 661v1M261.5 661v1M262.5 661v1M263.5 661v1M264.5 661v1M266.5 661v1M267.5 661v1M268.5 661v1M269.5 661v1M270.5 661v1M271.5 661v1M272.5 661v1M273.5 661v1M274.5 661v1M275.5 661v1M276.5 661v1M277.5 661v1M278.5 661v1M279.5 661v1M280.5 659v3M281.5 659v3M282.5 659v3M283.5 661v1M284.5 661v1M285.5 661v1M286.5 588v5M286.5 661v1M287.5 661v1M288.5 661v1M289.5 661v1M290.5 661v1M291.5 661v1M292.5 661v1M293.5 661v1M294.5 661v1M295.5 661v1M296.5 661v1M297.5 661v5M298.5 596v2M298.5 661v1M299.5 661v1M300.5 661v1M301.5 661v1M302.5 591v3M302.5 661v1M303.5 661v1M304.5 661v1M305.5 661v1M306.5 592v6M306.5 661v1M307.5 661v1M308.5 661v1M309.5 661v1M310.5 594v3M310.5 648v2M310.5 661v1M311.5 596v2M311.5 661v1M312.5 661v1M313.5 596v3M313.5 661v1M314.5 661v1M314.5 663v4M315.5 661v1M316.5 661v1M317.5 661v1M318.5 661v1M319.5 597v3M319.5 661v1M320.5 597v2M320.5 648v4M320.5 661v1M321.5 596v2M321.5 661v1M322.5 595v2M322.5 653v2M322.5 661v1M323.5 661v1M324.5 661v1M325.5 597v2M325.5 661v1M326.5 661v1M327.5 661v1M328.5 661v1M329.5 661v1M330.5 661v1M331.5 661v1M332.5 661v1M333.5 596v3M333.5 661v1M334.5 661v1M335.5 661v1M336.5 661v1M337.5 661v1M338.5 659v3M339.5 659v3M340.5 659v3M341.5 659v3M342.5 659v3M343.5 661v1M343.5 668v4M344.5 661v1M345.5 661v1M345.5 668v4M346.5 654v4M346.5 661v1M347.5 661v1M348.5 661v1M349.5 661v1M350.5 661v1M351.5 659v3M352.5 659v3M353.5 659v3M354.5 659v3M356.5 661v1M357.5 661v1M358.5 661v1M359.5 661v1M360.5 661v1M361.5 661v1M361.5 667v4M362.5 661v1M363.5 661v1M364.5 661v1M365.5 661v1M365.5 668v4M366.5 661v1M367.5 661v1M368.5 661v1M369.5 661v1M370.5 661v1M371.5 661v1M372.5 661v1M373.5 661v1M374.5 661v1M375.5 661v1M376.5 656v3M376.5 661v1M377.5 661v1M378.5 661v1M379.5 661v1M380.5 661v1M381.5 661v1M382.5 661v1M383.5 661v1M384.5 661v1M385.5 661v1M386.5 661v1M387.5 661v1M388.5 661v1M389.5 661v1M390.5 661v1M391.5 661v1M392.5 661v1M393.5 661v1M394.5 661v1M395.5 661v1M396.5 661v1M397.5 661v1M398.5 661v1M399.5 661v1M400.5 661v1M401.5 661v1M402.5 661v1M403.5 661v1M404.5 661v1M405.5 661v1M406.5 661v1M407.5 661v1M408.5 661v1M409.5 661v1M410.5 661v1M411.5 661v1M412.5 661v1M413.5 661v1M414.5 661v1M415.5 661v1M416.5 661v1M417.5 661v1M418.5 661v1M419.5 659v3M420.5 659v3M421.5 659v3M422.5 659v3M423.5 659v3M424.5 659v3M425.5 661v1M426.5 654v3M426.5 661v1M427.5 661v1M428.5 661v1M429.5 661v1M430.5 661v1M431.5 661v1M432.5 661v1M433.5 661v1M434.5 661v1M435.5 661v1M436.5 661v1M437.5 661v1M437.5 669v4M438.5 661v1M439.5 661v1M440.5 652v4M440.5 661v1M441.5 661v1M442.5 661v1M443.5 661v1M444.5 661v1M445.5 661v1M446.5 659v3M447.5 659v3M448.5 659v3M449.5 659v3M450.5 659v3M451.5 661v1M453.5 661v1M454.5 661v1M455.5 661v1M456.5 661v1M457.5 661v1M458.5 661v1M459.5 661v1M460.5 661v1M461.5 661v1M462.5 661v1M463.5 645v3M463.5 661v1M464.5 661v1M465.5 661v1M466.5 661v1M467.5 661v1M468.5 661v1M469.5 661v1M470.5 661v1M471.5 655v4M471.5 661v1M472.5 661v1M473.5 661v1M474.5 661v1M475.5 661v1M476.5 661v1M478.5 661v1M479.5 661v1M480.5 661v1M481.5 661v1M482.5 655v4M482.5 661v1M483.5 661v1M484.5 661v1M485.5 661v1M486.5 661v1M487.5 661v1M488.5 661v1M488.5 668v2M489.5 661v1M490.5 661v1M491.5 661v1M492.5 661v1M493.5 661v1M493.5 672v2M494.5 661v1M495.5 661v1M496.5 661v1M497.5 293v2M497.5 661v1M498.5 661v1M499.5 661v1M500.5 661v1M501.5 661v1M502.5 661v1M503.5 661v1M504.5 661v1M505.5 661v1M506.5 661v1M507.5 661v1M508.5 661v1M509.5 661v1M510.5 661v1M511.5 659v3M512.5 658v2M512.5 661v1M513.5 661v1M514.5 661v1M515.5 661v1M516.5 661v1M517.5 661v1M518.5 544v11M518.5 562v16M518.5 661v1M519.5 661v1M520.5 661v1M521.5 661v1M522.5 661v1M523.5 661v1M524.5 661v1M525.5 561v8M525.5 661v1M526.5 659v3M527.5 544v8M527.5 659v3M528.5 559v3M528.5 659v3M529.5 661v1M530.5 659v3M531.5 659v3M532.5 659v3M533.5 657v5M534.5 659v3M535.5 661v1M536.5 661v1M537.5 578v2M537.5 661v1M538.5 661v1M539.5 661v1M540.5 545v6M540.5 570v7M540.5 661v1M541.5 543v12M541.5 661v1M542.5 542v8M542.5 661v1M543.5 600v1M543.5 661v1M544.5 653v2M544.5 661v1M545.5 562v7M545.5 599v3M545.5 661v1M546.5 563v6M546.5 577v3M546.5 599v3M546.5 661v1M546.5 663v4M547.5 557v8M547.5 579v3M547.5 661v1M548.5 556v3M548.5 572v5M548.5 598v4M549.5 597v3M549.5 661v1M550.5 661v1M551.5 540v4M551.5 661v1M552.5 548v7M552.5 558v8M552.5 594v7M552.5 661v1M553.5 560v8M553.5 571v7M553.5 595v8M553.5 661v1M554.5 597v5M554.5 661v1M555.5 661v1M556.5 661v1M557.5 556v6M557.5 661v1M558.5 535v6M558.5 661v1M559.5 601v3M559.5 661v1M560.5 592v3M560.5 661v1M561.5 533v16M561.5 573v3M561.5 599v3M561.5 661v1M561.5 665v4M562.5 535v6M562.5 553v8M562.5 573v6M562.5 593v8M562.5 661v1M563.5 537v4M563.5 548v12M563.5 592v12M563.5 661v1M563.5 665v2M564.5 537v7M564.5 592v14M564.5 661v1M565.5 590v3M565.5 601v5M565.5 661v1M566.5 661v1M567.5 661v1M568.5 593v10M568.5 661v1M569.5 601v6M569.5 661v1M570.5 540v18M570.5 565v4M570.5 575v5M570.5 661v1M571.5 540v5M571.5 553v16M571.5 597v3M571.5 661v1M572.5 532v7M572.5 575v4M572.5 661v1M573.5 592v10M573.5 661v1M574.5 574v8M574.5 602v3M574.5 661v1M575.5 539v8M575.5 564v8M575.5 661v1M576.5 534v4M576.5 555v4M576.5 597v3M576.5 661v1M577.5 596v5M577.5 661v1M578.5 537v4M578.5 661v1M579.5 532v3M579.5 547v8M579.5 558v2M579.5 590v4M579.5 599v8M579.5 661v1M580.5 661v1M581.5 661v1M582.5 532v7M582.5 592v9M582.5 661v1M583.5 538v4M583.5 546v15M583.5 596v8M583.5 661v1M584.5 661v1M585.5 533v5M585.5 548v8M585.5 599v4M585.5 661v1M586.5 538v5M586.5 557v1M586.5 588v13M586.5 649v2M586.5 661v1M587.5 531v10M587.5 589v13M587.5 661v1M588.5 540v11M588.5 554v2M588.5 592v6M588.5 661v1M589.5 535v10M589.5 594v5M589.5 661v1M590.5 661v1M591.5 538v10M591.5 589v12M591.5 661v1M592.5 530v5M592.5 542v16M592.5 599v7M592.5 661v1M593.5 537v10M593.5 590v9M593.5 661v1M594.5 533v12M594.5 661v1M595.5 534v4M595.5 661v1M596.5 545v10M596.5 593v10M596.5 661v1M597.5 542v4M597.5 661v1M598.5 591v13M598.5 661v1M599.5 534v6M599.5 552v5M599.5 589v6M599.5 661v1M600.5 533v4M600.5 543v14M600.5 597v7M600.5 661v1M600.5 671v2M601.5 661v1M602.5 528v7M602.5 549v7M602.5 591v3M602.5 661v1M603.5 525v6M603.5 587v4M603.5 661v1M604.5 594v8M604.5 661v1M605.5 593v6M605.5 661v1M606.5 526v10M606.5 541v8M606.5 661v1M607.5 661v1M608.5 584v8M608.5 601v2M608.5 661v1M609.5 535v4M609.5 545v7M609.5 589v5M609.5 600v7M609.5 661v1M610.5 585v22M610.5 661v1M611.5 587v4M611.5 661v1M612.5 584v21M612.5 661v1M613.5 524v3M613.5 534v17M613.5 585v20M613.5 659v3M614.5 521v21M614.5 551v1M614.5 585v10M614.5 659v3M615.5 521v11M615.5 584v6M615.5 597v10M615.5 659v3M616.5 587v10M616.5 659v3M617.5 519v18M617.5 546v6M617.5 585v7M617.5 659v3M618.5 518v4M618.5 531v21M618.5 586v8M618.5 659v3M619.5 529v6M619.5 542v9M619.5 587v3M619.5 661v3M620.5 518v36M620.5 583v9M620.5 601v6M620.5 661v1M621.5 586v5M621.5 661v1M622.5 523v7M622.5 546v8M622.5 585v4M622.5 661v1M623.5 581v25M623.5 661v1M624.5 661v1M625.5 520v13M625.5 661v1M626.5 553v5M626.5 585v20M626.5 661v1M627.5 522v20M627.5 551v4M627.5 591v11M627.5 661v1M628.5 646v3M628.5 661v1M629.5 582v6M629.5 595v10M629.5 661v1M630.5 532v9M630.5 554v1M630.5 584v10M630.5 603v3M630.5 661v1M631.5 516v45M631.5 583v12M631.5 661v1M632.5 591v17M632.5 661v1M633.5 529v7M633.5 544v6M633.5 576v6M633.5 661v1M634.5 518v16M634.5 545v6M634.5 558v2M634.5 585v7M634.5 661v1M635.5 523v12M635.5 542v4M635.5 553v3M635.5 582v5M635.5 599v6M635.5 646v2M635.5 661v1M636.5 531v7M636.5 543v6M636.5 585v2M636.5 661v1M637.5 529v14M637.5 552v6M637.5 583v3M637.5 599v9M637.5 661v1M638.5 533v24M638.5 581v4M638.5 661v1M639.5 582v3M639.5 595v10M639.5 661v1M640.5 525v24M640.5 593v5M640.5 661v1M641.5 527v5M641.5 540v6M641.5 554v4M641.5 562v13M641.5 661v1M642.5 521v25M642.5 556v3M642.5 567v8M642.5 594v13M642.5 661v1M643.5 517v39M643.5 565v3M643.5 574v1M643.5 661v1M644.5 516v9M644.5 533v7M644.5 574v1M644.5 661v1M645.5 517v40M645.5 661v1M646.5 547v7M646.5 558v1M646.5 661v1M646.5 668v2M647.5 571v24M647.5 661v1M648.5 519v6M648.5 569v3M648.5 593v10M649.5 540v8M649.5 556v1M649.5 571v4M649.5 661v1M650.5 519v30M650.5 569v3M650.5 575v11M650.5 661v1M651.5 524v3M651.5 539v7M651.5 573v2M651.5 587v16M651.5 661v1M652.5 570v5M652.5 656v2M652.5 661v1M653.5 528v3M653.5 538v9M653.5 550v7M653.5 567v8M653.5 661v1M654.5 524v31M654.5 661v1M655.5 661v1M656.5 531v15M656.5 572v3M656.5 661v1M657.5 571v4M657.5 661v1M658.5 661v1M659.5 661v1M660.5 595v13M660.5 650v2M660.5 661v1M661.5 520v3M661.5 530v10M661.5 544v8M661.5 575v31M661.5 661v1M662.5 574v1M662.5 661v1M663.5 574v1M663.5 661v1M664.5 550v4M664.5 661v1M665.5 661v1M666.5 533v8M666.5 549v7M666.5 571v4M666.5 661v1M667.5 575v30M667.5 661v1M668.5 661v1M669.5 586v13M669.5 661v1M670.5 661v1M671.5 551v4M671.5 659v3M673.5 659v3M674.5 657v5M675.5 575v5M675.5 596v11M675.5 659v3M676.5 70v2M676.5 661v1M677.5 661v1M678.5 661v1M679.5 661v1M680.5 661v1M681.5 661v1M682.5 661v1M683.5 661v1M684.5 251v6M684.5 661v1M685.5 592v11M685.5 661v1M686.5 661v1M687.5 593v15M687.5 661v1M688.5 661v1M689.5 649v4M689.5 661v1M690.5 661v1M691.5 661v1M692.5 590v13M692.5 661v1M693.5 661v1M694.5 645v2M694.5 661v1M695.5 661v1M696.5 661v1M697.5 661v1M698.5 608v1M698.5 661v1M699.5 576v30M699.5 661v1M700.5 661v1M702.5 661v1M703.5 661v1M704.5 661v1M705.5 661v1M706.5 601v7M706.5 661v1M707.5 661v1M708.5 604v1M708.5 661v1M709.5 594v5M710.5 661v1M711.5 661v1M712.5 600v7M712.5 661v1M713.5 649v3M713.5 661v1M714.5 643v2M714.5 661v1M716.5 659v3M717.5 659v3M718.5 640v4M718.5 659v3M719.5 636v6M719.5 659v3M720.5 659v3M721.5 661v1M722.5 661v1M723.5 661v1M724.5 661v1M725.5 575v12M725.5 641v6M725.5 661v1M726.5 661v1M727.5 628v8M727.5 661v1M728.5 661v1M729.5 661v1M730.5 661v1M731.5 661v1M732.5 661v1M733.5 628v3M733.5 661v1M734.5 575v19M734.5 661v1M735.5 661v1M736.5 661v1M737.5 661v1M738.5 592v14M738.5 661v1M739.5 661v1M740.5 661v1M741.5 661v1M742.5 661v1M743.5 74v2M743.5 592v9M743.5 661v1M744.5 661v1M745.5 661v1M746.5 661v1M747.5 661v1M748.5 661v1M749.5 661v1M750.5 659v3M751.5 659v3M752.5 297v3M752.5 657v2M752.5 661v1M753.5 661v1M754.5 255v4M754.5 642v3M754.5 661v1M755.5 661v1M756.5 595v7M756.5 661v1M757.5 266v4M757.5 661v1M758.5 281v3M758.5 661v1M759.5 661v1M760.5 661v1M761.5 661v1M762.5 562v6M762.5 661v1M763.5 661v1M764.5 661v1M765.5 295v4M765.5 661v1M766.5 661v1M767.5 661v1M768.5 661v1M769.5 295v5M769.5 661v1M770.5 255v3M770.5 274v4M770.5 295v3M770.5 661v1M771.5 659v3M772.5 659v3M773.5 249v7M773.5 270v22M773.5 296v5M773.5 661v1M774.5 661v1M775.5 661v1M776.5 661v1M777.5 661v1M778.5 661v1M779.5 661v1M780.5 661v1M781.5 272v11M781.5 661v1M782.5 661v1M783.5 661v1M784.5 278v6M784.5 661v1M785.5 661v1M786.5 661v1M787.5 661v1M788.5 661v1M789.5 306v1M789.5 661v1M790.5 287v6M790.5 302v7M790.5 661v1M791.5 661v1M792.5 661v1M793.5 281v3M793.5 661v1M794.5 661v1M795.5 661v1M796.5 661v1M797.5 661v1M798.5 661v1M799.5 661v1M800.5 661v1M801.5 661v1M802.5 661v1M803.5 661v1M804.5 661v1M805.5 661v1M806.5 661v1M807.5 661v1M808.5 661v1M809.5 661v1M810.5 661v1M811.5 661v1M812.5 661v1M813.5 661v1M814.5 661v1M815.5 661v1M816.5 661v1M817.5 661v1M818.5 661v1M819.5 661v1M820.5 661v1M821.5 661v1M822.5 661v1M823.5 661v1M824.5 661v1M825.5 661v1M861.5 274v1M862.5 267v4M863.5 271v6M866.5 262v3M866.5 277v3M873.5 264v8M874.5 276v3M879.5 259v3M881.5 267v8M898.5 270v4M899.5 280v4M900.5 277v8M902.5 283v5M903.5 282v6M904.5 264v6M906.5 252v7M906.5 273v6M907.5 253v8M907.5 269v9M907.5 285v4M908.5 270v6M911.5 272v6"/><path stroke="#b93100" d="M107.5 580v3M108.5 573v12M108.5 588v4M109.5 581v6M112.5 571v5M119.5 576v2M119.5 586v4M131.5 580v5M139.5 572v3M139.5 577v8M149.5 576v4M154.5 587v3M155.5 591v1M188.5 592v4M233.5 532v2M245.5 595v3M302.5 594v4M308.5 597v2M309.5 597v3M316.5 595v5M324.5 594v2M330.5 593v2M330.5 597v2M331.5 592v7M334.5 598v2M335.5 596v4M346.5 167v2M419.5 267v2M477.5 124v2M493.5 427v2M518.5 555v7M528.5 570v7M540.5 554v13M544.5 600v1M545.5 558v4M545.5 569v8M546.5 558v5M546.5 573v4M551.5 594v6M552.5 540v8M552.5 555v3M552.5 569v10M555.5 598v4M557.5 538v18M557.5 562v5M557.5 592v9M558.5 550v11M558.5 596v6M559.5 569v6M560.5 602v2M561.5 557v11M561.5 576v4M561.5 595v4M562.5 550v3M562.5 566v7M563.5 589v3M564.5 564v5M564.5 572v4M566.5 536v3M566.5 596v11M567.5 574v7M568.5 538v8M568.5 557v5M568.5 575v7M570.5 569v6M570.5 580v1M570.5 591v12M571.5 575v7M572.5 553v3M572.5 567v8M572.5 594v8M574.5 530v11M574.5 563v3M574.5 597v5M575.5 529v10M575.5 547v4M575.5 554v2M575.5 572v8M577.5 537v8M577.5 554v5M578.5 549v10M578.5 595v7M579.5 535v12M579.5 555v3M579.5 594v5M580.5 534v5M580.5 546v6M580.5 557v1M581.5 530v15M581.5 550v4M581.5 593v6M582.5 601v6M583.5 529v9M583.5 542v4M583.5 592v4M584.5 544v6M584.5 554v3M584.5 598v3M587.5 541v17M588.5 588v4M588.5 598v9M589.5 545v14M589.5 599v5M590.5 535v10M590.5 587v15M591.5 530v8M591.5 548v6M592.5 535v7M593.5 533v4M593.5 547v8M594.5 545v9M594.5 592v15M595.5 538v10M595.5 591v7M597.5 546v10M597.5 590v12M598.5 529v22M599.5 595v7M600.5 537v6M600.5 589v8M600.5 604v3M602.5 535v14M603.5 531v23M603.5 591v11M604.5 528v27M604.5 587v7M605.5 535v7M605.5 599v4M606.5 549v4M607.5 537v6M607.5 596v7M608.5 529v3M608.5 535v22M608.5 592v9M610.5 525v26M611.5 527v8M611.5 541v12M611.5 591v13M612.5 525v3M612.5 535v17M614.5 542v9M614.5 595v7M615.5 590v7M616.5 518v10M616.5 547v8M617.5 537v9M618.5 522v9M618.5 594v9M619.5 524v5M619.5 535v7M619.5 551v6M619.5 581v6M619.5 590v17M620.5 592v9M621.5 513v24M621.5 547v8M621.5 579v7M621.5 599v3M622.5 530v10M622.5 589v8M622.5 600v2M623.5 531v20M624.5 514v17M624.5 539v19M624.5 581v9M624.5 596v6M625.5 514v6M625.5 533v24M626.5 529v24M626.5 605v3M627.5 542v9M627.5 584v7M627.5 602v5M628.5 525v7M628.5 538v6M629.5 553v5M629.5 588v7M629.5 605v3M630.5 520v12M630.5 541v13M631.5 579v4M631.5 595v7M632.5 528v9M632.5 583v8M633.5 520v9M633.5 536v8M633.5 550v6M633.5 563v3M634.5 534v11M634.5 551v7M635.5 535v7M635.5 546v7M635.5 562v2M635.5 569v7M635.5 587v12M636.5 519v12M636.5 538v5M636.5 549v8M637.5 521v8M637.5 543v9M637.5 563v8M637.5 575v7M637.5 586v13M638.5 521v12M638.5 595v8M639.5 526v18M639.5 554v8M639.5 564v5M639.5 574v2M640.5 554v7M640.5 567v26M640.5 601v5M641.5 519v8M641.5 532v8M641.5 546v8M642.5 516v5M642.5 546v10M644.5 525v8M644.5 557v3M644.5 568v6M645.5 568v7M646.5 565v10M647.5 546v5M647.5 564v7M648.5 525v35M648.5 575v18M649.5 566v5M649.5 575v21M651.5 520v4M651.5 527v12M651.5 546v10M652.5 566v4M652.5 594v6M653.5 575v13M654.5 555v6M656.5 523v8M656.5 546v13M658.5 569v6M664.5 575v35M669.5 569v6M671.5 604v6M680.5 597v7M709.5 576v18M709.5 640v3M714.5 626v6M721.5 628v3M721.5 642v3M724.5 591v16M724.5 626v5M726.5 646v1M728.5 626v5M732.5 595v9M737.5 569v6M738.5 566v9M738.5 614v1M739.5 584v14M742.5 570v5M743.5 575v17M745.5 496v10M745.5 636v7M745.5 649v5M747.5 543v15M748.5 521v6M749.5 533v13M750.5 636v4M751.5 642v2M752.5 502v6M752.5 647v6M752.5 659v2M753.5 575v11M754.5 266v3M754.5 282v7M754.5 296v2M756.5 564v11M757.5 636v3M757.5 642v6M757.5 650v7M759.5 650v3M759.5 656v3M763.5 291v3M764.5 543v5M765.5 582v5M766.5 594v21M767.5 443v2M768.5 605v9M769.5 606v13M770.5 290v5M770.5 301v5M773.5 256v7M773.5 628v11M774.5 535v16M775.5 540v12M781.5 618v13M782.5 551v13M784.5 605v7M785.5 301v6M786.5 280v8M786.5 621v7M787.5 653v8M787.5 662v3M788.5 633v16M789.5 293v7M789.5 503v17M789.5 646v5M790.5 270v9M790.5 293v5M790.5 523v16M791.5 284v3M792.5 566v2M792.5 654v5M793.5 284v8M794.5 575v12M798.5 647v12M801.5 604v12M805.5 583v15M805.5 623v21M809.5 546v20M813.5 575v10M814.5 552v21M816.5 535v17M820.5 548v7M824.5 545v19M863.5 265v6M865.5 264v7M865.5 275v2M870.5 270v2M878.5 260v8M878.5 276v3M879.5 262v7M879.5 273v6M880.5 260v14M881.5 263v4M898.5 280v2M900.5 264v7M900.5 288v2M901.5 260v5M906.5 262v3M906.5 269v4M910.5 256v6M910.5 266v9M911.5 278v6"/><path stroke="#c41300" d="M108.5 670v2M115.5 577v18M129.5 655v2M167.5 658v3M176.5 657v2M193.5 666v4M221.5 650v4M222.5 664v4M225.5 666v2M257.5 664v4M259.5 660v4M265.5 659v4M281.5 651v2M284.5 659v2M285.5 659v2M297.5 591v6M297.5 645v4M302.5 598v2M308.5 593v4M320.5 594v3M321.5 659v2M322.5 659v2M322.5 666v4M323.5 659v2M324.5 596v2M324.5 659v2M325.5 659v2M326.5 650v2M326.5 659v2M332.5 594v4M340.5 647v4M346.5 241v2M357.5 659v2M358.5 659v2M359.5 659v2M371.5 671v3M377.5 646v3M387.5 645v3M401.5 648v2M403.5 652v4M426.5 659v2M427.5 659v2M428.5 659v2M452.5 658v4M464.5 650v3M473.5 669v2M475.5 663v2M477.5 658v4M513.5 668v2M514.5 667v4M522.5 671v3M535.5 659v2M536.5 659v2M537.5 659v2M538.5 659v2M539.5 659v2M540.5 659v2M543.5 659v2M544.5 659v2M547.5 599v3M553.5 549v11M556.5 591v10M557.5 578v3M558.5 546v4M558.5 561v9M562.5 544v6M564.5 544v8M567.5 532v8M568.5 530v8M568.5 554v3M568.5 562v7M569.5 532v21M571.5 569v6M571.5 600v5M572.5 561v6M573.5 538v5M573.5 564v5M574.5 541v7M574.5 559v4M575.5 556v8M576.5 563v2M577.5 532v5M577.5 545v9M579.5 651v3M580.5 539v7M580.5 552v5M580.5 595v10M581.5 554v7M581.5 599v6M584.5 550v4M584.5 595v3M590.5 545v9M592.5 590v9M592.5 656v2M595.5 598v4M597.5 533v9M601.5 527v21M601.5 591v15M602.5 594v12M604.5 648v3M605.5 523v12M605.5 542v15M607.5 523v14M607.5 543v14M607.5 588v8M608.5 523v6M608.5 532v3M611.5 535v6M612.5 528v7M612.5 552v2M616.5 528v19M616.5 555v3M619.5 516v8M621.5 537v10M621.5 591v8M622.5 597v3M623.5 527v4M623.5 551v2M624.5 531v8M624.5 590v6M626.5 516v13M626.5 655v3M628.5 519v6M628.5 532v6M628.5 544v12M629.5 526v11M629.5 544v9M632.5 518v10M632.5 537v19M632.5 562v7M632.5 575v2M633.5 566v10M633.5 582v3M634.5 565v12M634.5 580v5M635.5 564v5M635.5 576v6M636.5 565v12M636.5 583v2M637.5 571v4M637.5 582v1M638.5 576v5M639.5 519v7M639.5 544v10M639.5 569v5M639.5 576v6M639.5 659v2M640.5 561v6M640.5 598v3M640.5 659v2M641.5 659v2M644.5 540v17M644.5 560v1M646.5 658v3M647.5 517v12M647.5 536v10M647.5 551v11M648.5 660v2M649.5 601v6M650.5 659v2M651.5 659v2M652.5 659v2M653.5 588v11M653.5 646v4M653.5 659v2M654.5 659v2M655.5 659v2M658.5 575v6M658.5 594v14M660.5 573v2M670.5 669v2M671.5 575v9M674.5 601v5M681.5 662v2M682.5 598v7M683.5 589v5M684.5 652v4M685.5 657v3M692.5 575v15M693.5 652v3M693.5 666v2M696.5 657v3M697.5 593v11M701.5 659v3M708.5 653v4M715.5 660v4M717.5 634v5M719.5 596v13M720.5 671v3M724.5 575v16M724.5 631v3M726.5 631v6M732.5 635v3M743.5 548v15M743.5 571v4M743.5 601v11M745.5 654v3M746.5 570v5M752.5 542v17M752.5 653v4M754.5 532v15M756.5 638v4M757.5 534v24M757.5 648v2M757.5 657v4M758.5 650v6M761.5 570v5M761.5 672v2M762.5 575v7M764.5 590v14M765.5 587v7M765.5 659v2M766.5 555v7M766.5 575v19M766.5 659v2M767.5 558v6M767.5 659v2M767.5 667v2M768.5 635v11M768.5 659v2M769.5 510v11M769.5 634v13M769.5 659v2M770.5 551v19M770.5 659v2M771.5 517v14M771.5 617v3M772.5 579v8M773.5 292v4M773.5 611v6M773.5 639v14M774.5 612v8M775.5 598v23M775.5 635v21M776.5 594v10M777.5 607v5M777.5 648v11M777.5 662v1M778.5 564v7M778.5 618v17M779.5 575v15M779.5 641v9M780.5 513v16M780.5 546v12M782.5 516v16M782.5 615v8M783.5 487v14M783.5 638v11M785.5 569v6M786.5 507v16M786.5 610v11M786.5 647v10M787.5 513v8M788.5 619v7M788.5 649v12M788.5 662v3M789.5 651v7M789.5 670v3M790.5 298v4M790.5 558v9M791.5 287v8M791.5 301v3M791.5 657v2M792.5 523v20M793.5 271v10M793.5 292v9M793.5 496v8M794.5 607v20M795.5 516v8M796.5 624v13M797.5 575v9M797.5 639v10M798.5 575v7M800.5 551v12M800.5 643v7M800.5 659v2M801.5 659v2M802.5 630v11M802.5 659v2M804.5 616v11M805.5 559v11M805.5 575v8M806.5 508v15M806.5 556v15M807.5 611v14M807.5 644v17M808.5 577v28M809.5 501v11M809.5 593v50M810.5 672v2M811.5 481v16M816.5 569v5M818.5 570v5M820.5 565v10M823.5 536v15M824.5 564v7M826.5 550v9M827.5 528v17M859.5 269v8M861.5 266v8M865.5 259v5M867.5 258v4M867.5 269v7M878.5 268v8M880.5 274v4M882.5 272v4M885.5 267v1M898.5 274v6M899.5 266v8M901.5 265v7M906.5 265v4M908.5 281v5M910.5 275v6M911.5 265v7M911.5 284v2"/><path stroke="#c90400" d="M115.5 574v3M139.5 575v2M155.5 67v2M224.5 426v2M265.5 510v2M313.5 599v1M327.5 593v5M330.5 595v2M334.5 595v3M335.5 600v1M481.5 258v2M551.5 544v8M553.5 568v3M558.5 570v10M567.5 546v8M569.5 553v6M569.5 567v4M572.5 545v8M573.5 534v4M573.5 555v5M573.5 577v5M574.5 548v11M574.5 566v8M581.5 545v5M584.5 534v10M601.5 548v8M623.5 518v9M628.5 514v5M629.5 516v10M629.5 537v7M632.5 556v1M632.5 569v6M632.5 577v5M634.5 577v3M636.5 579v4M638.5 570v6M645.5 575v32M647.5 529v7M658.5 581v13M663.5 597v11M670.5 595v14M671.5 584v20M673.5 594v6M677.5 575v10M688.5 575v19M698.5 588v20M720.5 640v2M722.5 607v3M726.5 581v19M730.5 114v2M734.5 594v13M737.5 513v19M738.5 513v11M739.5 532v15M742.5 550v7M744.5 569v12M747.5 498v17M749.5 575v6M753.5 547v17M756.5 602v10M756.5 636v2M756.5 642v10M758.5 656v3M760.5 517v15M761.5 597v11M762.5 545v8M762.5 600v16M763.5 596v5M764.5 505v10M764.5 575v10M765.5 520v21M770.5 497v9M770.5 589v10M770.5 626v10M770.5 656v3M770.5 662v1M772.5 609v6M772.5 653v6M773.5 653v8M777.5 537v20M779.5 590v15M782.5 489v13M783.5 627v11M784.5 575v20M786.5 483v17M788.5 568v7M790.5 606v14M791.5 263v4M793.5 567v2M793.5 605v9M795.5 569v1M795.5 662v1M797.5 584v20M798.5 607v16M798.5 636v11M799.5 494v32M799.5 556v15M801.5 624v19M804.5 508v5M805.5 497v11M805.5 524v20M805.5 644v17M810.5 550v16M810.5 600v20M810.5 653v6M812.5 522v21M815.5 511v13M817.5 574v1M821.5 535v20M825.5 502v10M826.5 509v19M859.5 277v1M867.5 276v1M882.5 257v7M901.5 276v6M901.5 287v2"/><path stroke="#cc0d00" d="M179.5 169v2M205.5 407v2M266.5 205v2M369.5 457v2M431.5 471v2M441.5 144v2M567.5 560v8M569.5 571v5M573.5 560v4M573.5 569v8M636.5 577v2M638.5 563v7M720.5 626v9M750.5 656v3M773.5 203v2M791.5 298v3M867.5 262v7M882.5 264v4M901.5 272v4M901.5 282v5"/><path stroke="#cf1600" d="M372.5 232v2M486.5 407v2M567.5 540v6M567.5 554v3M573.5 543v4M750.5 647v4M791.5 267v17M791.5 295v3M814.5 161v2M882.5 268v4"/><path stroke="#d12000" d="M629.5 102v2M730.5 633v7"/><path stroke="#d42900" d="M128.5 562v2M864.5 301v2"/><path stroke="#d73200" d="M461.5 167v2M547.5 56v2M575.5 195v2M653.5 205v2M732.5 267v2M739.5 625v2"/><path stroke="#d93b00" d="M193.5 210v2"/><path stroke="#dd4d00" d="M325.5 173v2"/><path stroke="#df5700" d="M206.5 610v2M568.5 491v2"/><path stroke="#e16000" d="M378.5 329v2M582.5 576v2M665.5 359v2M859.5 57v2"/><path stroke="#e36900" d="M207.5 143v2"/><path stroke="#e57200" d="M262.5 499v2M648.5 625v2M823.5 133v2"/><path stroke="#e77b00" d="M361.5 287v2M862.5 469v2"/><path stroke="#e98500" d="M334.5 519v2M487.5 491v2M744.5 78v2M830.5 243v2"/><path stroke="#eb8f00" d="M109.5 542v2M277.5 296v2M404.5 397v2"/><path stroke="#ed9900" d="M308.5 249v2M835.5 128v2"/><path stroke="#f0a300" d="M776.5 460v2"/><path stroke="#f4b700" d="M273.5 482v2M794.5 429v2"/><path stroke="#f6c100" d="M288.5 134v2M828.5 433v2"/><path stroke="#f9cb00" d="M500.5 65v2"/><path stroke="#fad400" d="M741.5 637v2M762.5 377v2"/><path stroke="#fce300" d="M198.5 397v2M357.5 328v2"/><path stroke="#fef200" d="M808.5 100v2"/><path stroke="#fef700" d="M539.5 504v2"/><path stroke="#fffc00" d="M230.5 494v2"/></g></g><rect x="104.5" y="53.25" width="809" height="627.25" fill="none" stroke="#000" stroke-width="1.5"/><path d="M123.7 680v-3M123.7 53v3M146.1 680v-3M146.1 53v3M168.6 680v-3M168.6 53v3M191.1 680v-3M191.1 53v3M213.5 680v-3M213.5 53v3M236.0 680v-5M236.0 53v5M258.5 680v-3M258.5 53v3M280.9 680v-3M280.9 53v3M303.4 680v-3M303.4 53v3M325.9 680v-3M325.9 53v3M348.3 680v-3M348.3 53v3M370.8 680v-5M370.8 53v5M393.3 680v-3M393.3 53v3M415.7 680v-3M415.7 53v3M438.2 680v-3M438.2 53v3M460.7 680v-3M460.7 53v3M483.1 680v-3M483.1 53v3M505.6 680v-5M505.6 53v5M528.1 680v-3M528.1 53v3M550.5 680v-3M550.5 53v3M573.0 680v-3M573.0 53v3M595.5 680v-3M595.5 53v3M617.9 680v-3M617.9 53v3M640.4 680v-5M640.4 53v5M662.9 680v-3M662.9 53v3M685.3 680v-3M685.3 53v3M707.8 680v-3M707.8 53v3M730.3 680v-3M730.3 53v3M752.7 680v-3M752.7 53v3M775.2 680v-5M775.2 53v5M797.7 680v-3M797.7 53v3M820.1 680v-3M820.1 53v3M842.6 680v-3M842.6 53v3M865.1 680v-3M865.1 53v3M887.5 680v-3M887.5 53v3M910.0 680v-5M910.0 53v5M104 680.0h7M913 680.0h-7M104 653.9h4M913 653.9h-4M104 627.8h4M913 627.8h-4M104 601.6h4M913 601.6h-4M104 575.5h7M913 575.5h-7M104 549.4h4M913 549.4h-4M104 523.2h4M913 523.2h-4M104 497.1h4M913 497.1h-4M104 471.0h7M913 471.0h-7M104 444.9h4M913 444.9h-4M104 418.8h4M913 418.8h-4M104 392.6h4M913 392.6h-4M104 366.5h7M913 366.5h-7M104 340.4h4M913 340.4h-4M104 314.2h4M913 314.2h-4M104 288.1h4M913 288.1h-4M104 262.0h7M913 262.0h-7M104 235.9h4M913 235.9h-4M104 209.8h4M913 209.8h-4M104 183.6h4M913 183.6h-4M104 157.5h7M913 157.5h-7M104 131.4h4M913 131.4h-4M104 105.2h4M913 105.2h-4M104 79.1h4M913 79.1h-4M104 53.0h7M913 53.0h-7" stroke="#000" stroke-width="1.3" fill="none"/><text x="236.0" y="705" text-anchor="middle">03:30</text><text x="370.8" y="705" text-anchor="middle">04:00</text><text x="505.6" y="705" text-anchor="middle">04:30</text><text x="640.4" y="705" text-anchor="middle">05:00</text><text x="775.2" y="705" text-anchor="middle">05:30</text><text x="910.0" y="705" text-anchor="middle">06:00</text><text x="100" y="680.0" text-anchor="end">0</text><text x="100" y="582.5" text-anchor="end">2</text><text x="100" y="478.0" text-anchor="end">4</text><text x="100" y="373.5" text-anchor="end">6</text><text x="100" y="269.0" text-anchor="end">8</text><text x="100" y="164.5" text-anchor="end">10</text><text x="100" y="65.0" text-anchor="end">12</text><text x="508.5" y="727" text-anchor="middle">Time UTC</text><text x="200" y="40">Doppler Velocity VELg&#160;&#160;&#160;03:01 17.09.2022 - 06:00 17.09.2022 Muenchen</text><text transform="translate(62 364) rotate(-90)" text-anchor="middle">Height km</text><defs><linearGradient id="cb" x1="0" y1="0" x2="0" y2="1"><stop offset="0.0000" stop-color="rgb(255, 255, 0)"/><stop offset="0.1251" stop-color="rgb(245, 200, 0)"/><stop offset="0.2516" stop-color="rgb(225, 110, 0)"/><stop offset="0.3594" stop-color="rgb(215, 50, 0)"/><stop offset="0.4250" stop-color="rgb(200, 0, 0)"/><stop offset="0.4531" stop-color="rgb(150, 40, 0)"/><stop offset="0.5000" stop-color="rgb(120, 100, 0)"/><stop offset="0.5562" stop-color="rgb(0, 140, 0)"/><stop offset="0.6125" stop-color="rgb(0, 145, 30)"/><stop offset="0.6734" stop-color="rgb(0, 150, 90)"/><stop offset="0.7296" stop-color="rgb(0, 100, 100)"/><stop offset="0.7999" stop-color="rgb(0, 50, 110)"/><stop offset="0.8655" stop-color="rgb(0, 0, 80)"/><stop offset="0.9452" stop-color="rgb(0, 0, 20)"/><stop offset="1.0000" stop-color="rgb(0, 0, 0)"/></linearGradient></defs><rect x="923.5" y="128.5" width="25" height="477" fill="url(#cb)" stroke="#333" stroke-width="1"/><path d="M948 590.0h-2M948 567.6h-2M948 545.3h-2M948 523.0h-2M948 500.6h-2M948 478.2h-2M948 455.9h-2M948 433.6h-2M948 411.2h-2M948 388.9h-2M948 366.5h-2M948 344.1h-2M948 321.8h-2M948 299.4h-2M948 277.1h-2M948 254.8h-2M948 232.4h-2M948 210.0h-2M948 187.7h-2M948 165.3h-2M948 143.0h-2" stroke="#000" stroke-width="1" fill="none"/><text x="953" y="150.0">10</text><text x="953" y="261.8">5</text><text x="953" y="373.5">0</text><text x="953" y="485.2">-5</text><text x="953" y="597.0">-10</text><text transform="translate(1000 366) rotate(-90)" text-anchor="middle">VELg m/s</text></svg></body></html>
